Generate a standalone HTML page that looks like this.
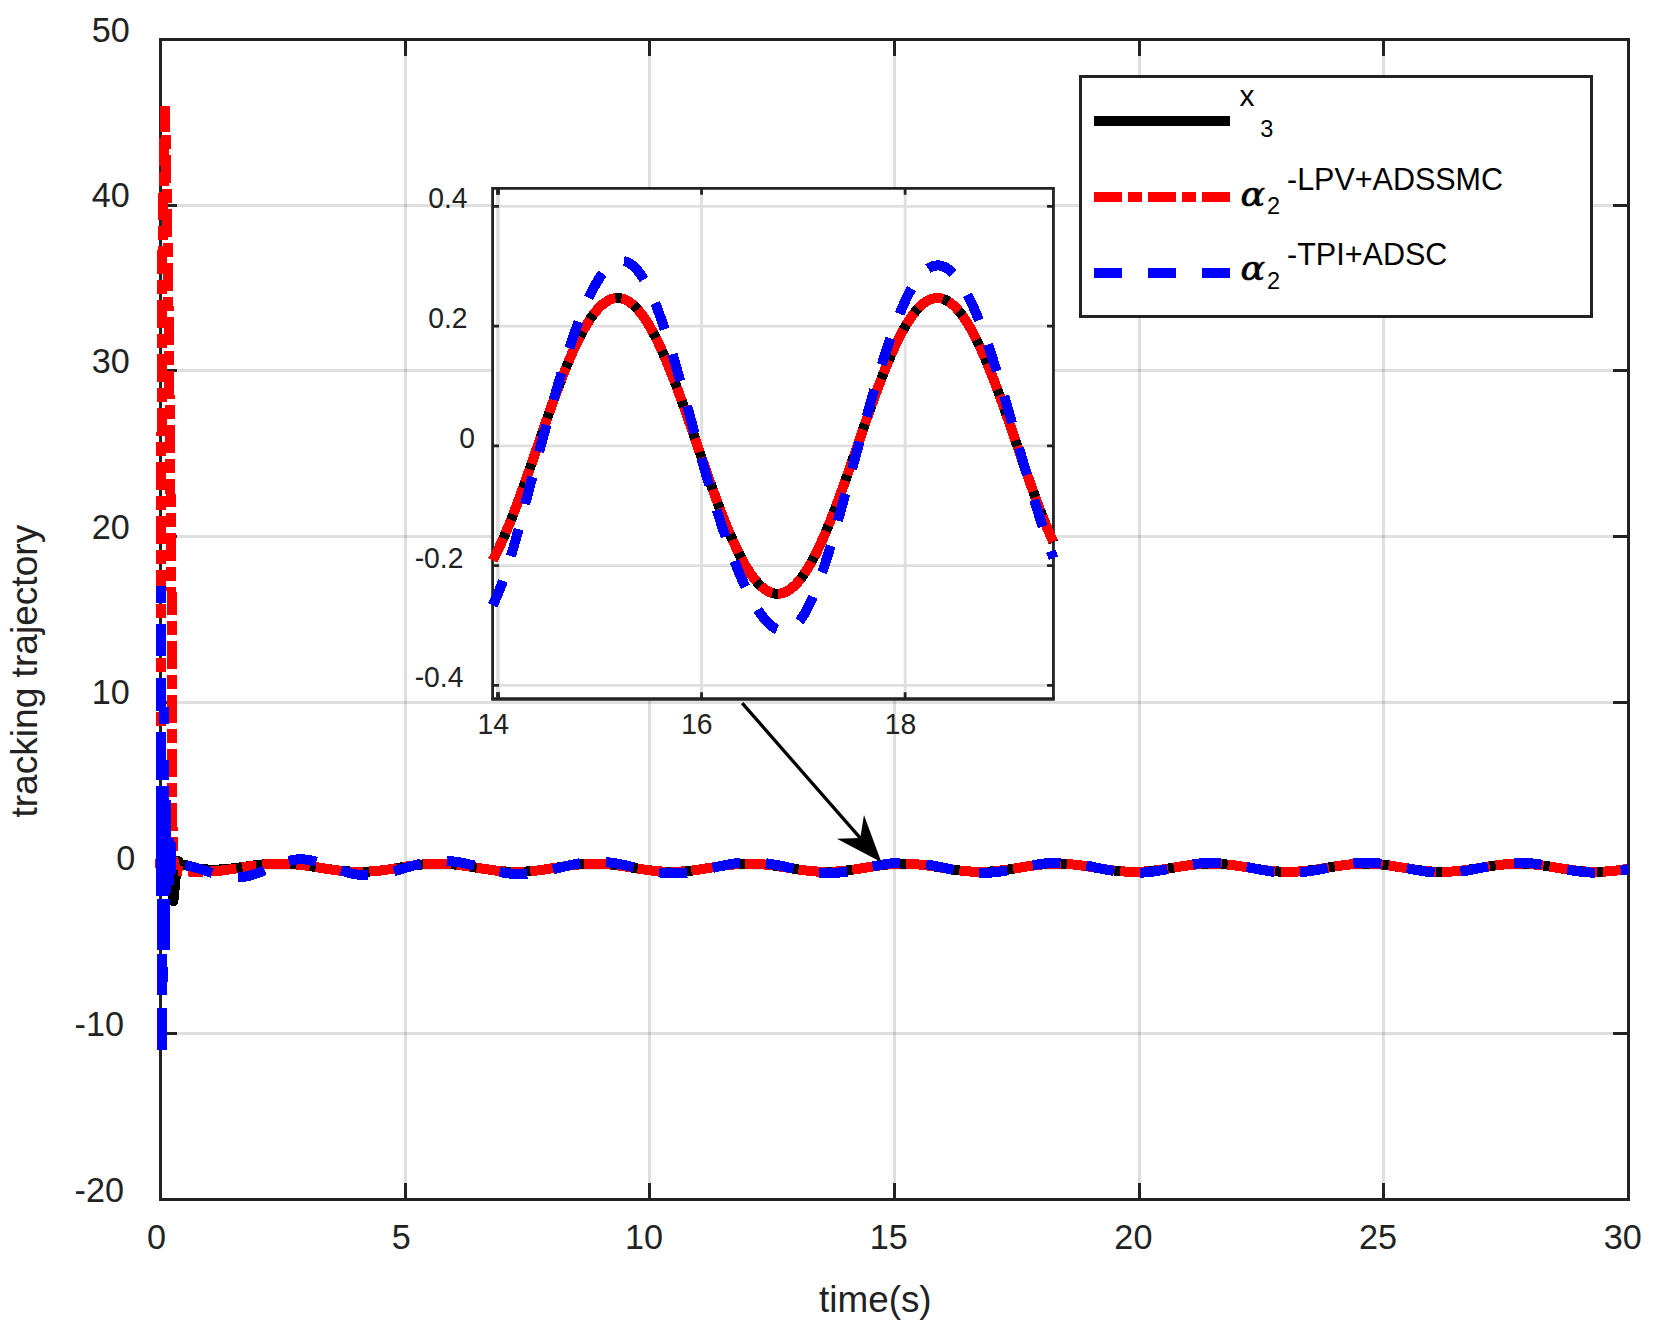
<!DOCTYPE html>
<html><head><meta charset="utf-8"><title>tracking trajectory</title>
<style>html,body{margin:0;padding:0;background:#fff}svg{display:block}</style></head>
<body>
<svg width="1656" height="1328" viewBox="0 0 1656 1328">
<rect width="1656" height="1328" fill="#fff"/>
<path d="M405.5,39.5 V1199.5 M649.5,39.5 V1199.5 M894.5,39.5 V1199.5 M1139.5,39.5 V1199.5 M1383.5,39.5 V1199.5" stroke="#262626" stroke-opacity="0.15" stroke-width="3" fill="none" shape-rendering="crispEdges"/>
<path d="M160.5,205.5 H1628.5 M160.5,370.5 H1628.5 M160.5,536.5 H1628.5 M160.5,702.5 H1628.5 M160.5,868.5 H1628.5 M160.5,1033.5 H1628.5" stroke="#262626" stroke-opacity="0.15" stroke-width="3" fill="none" shape-rendering="crispEdges"/>
<path d="M405.5,39.5 v16.5 M405.5,1199.5 v-16.5 M649.5,39.5 v16.5 M649.5,1199.5 v-16.5 M894.5,39.5 v16.5 M894.5,1199.5 v-16.5 M1139.5,39.5 v16.5 M1139.5,1199.5 v-16.5 M1383.5,39.5 v16.5 M1383.5,1199.5 v-16.5 M160.5,205.5 h16.5 M1628.5,205.5 h-15.5 M160.5,370.5 h16.5 M1628.5,370.5 h-15.5 M160.5,536.5 h16.5 M1628.5,536.5 h-15.5 M160.5,702.5 h16.5 M1628.5,702.5 h-15.5 M160.5,868.5 h16.5 M1628.5,868.5 h-15.5 M160.5,1033.5 h16.5 M1628.5,1033.5 h-15.5" stroke="#222222" stroke-width="3" fill="none" shape-rendering="crispEdges"/>
<rect x="160.5" y="39.5" width="1468" height="1160" stroke="#222222" stroke-width="3" fill="none" shape-rendering="crispEdges"/>
<g fill="none" stroke-width="10" stroke-linejoin="round" shape-rendering="crispEdges">
<path d="M160.5,867.77 L166,867.77 L170,876.06 L173.4,901 L176.3,871.09 L178.2,861.14 L181,864.46 L184.97,864.77 L186.17,865.23 L187.37,865.66 L188.58,866.07 L189.78,866.45 L190.98,866.81 L192.18,867.14 L193.39,867.45 L194.59,867.73 L195.79,868 L197,868.24 L198.2,868.46 L199.4,868.65 L200.6,868.83 L201.81,868.99 L203.01,869.14 L204.21,869.26 L205.42,869.37 L206.62,869.46 L207.82,869.53 L209.03,869.59 L210.23,869.63 L211.43,869.66 L212.63,869.67 L213.84,869.67 L215.04,869.66 L216.24,869.63 L217.45,869.6 L218.65,869.55 L219.85,869.49 L221.06,869.42 L222.26,869.34 L223.46,869.25 L224.66,869.15 L225.87,869.05 L227.07,868.93 L228.27,868.81 L229.48,868.68 L230.68,868.55 L231.88,868.41 L233.08,868.26 L234.29,868.11 L235.49,867.96 L236.69,867.8 L237.9,867.64 L239.1,867.48 L240.3,867.32 L241.51,867.15 L242.71,866.98 L243.91,866.81 L245.11,866.65 L246.32,866.48 L247.52,866.31 L248.72,866.15 L249.93,865.99 L251.13,865.83 L252.33,865.67 L253.53,865.51 L254.74,865.36 L255.94,865.22 L257.14,865.07 L258.35,864.94 L259.55,864.81 L260.75,864.68 L261.96,864.56 L263.16,864.45 L264.36,864.34 L265.56,864.24 L266.77,864.14 L267.97,864.06 L269.17,863.98 L270.38,863.91 L271.58,863.85 L272.78,863.79 L273.98,863.75 L275.19,863.71 L276.39,863.68 L277.59,863.66 L278.8,863.65 L280,863.65 L281.2,863.66 L282.41,863.67 L283.61,863.7 L284.81,863.73 L286.01,863.77 L287.22,863.82 L288.42,863.88 L289.62,863.95 L290.83,864.03 L292.03,864.11 L293.23,864.2 L294.43,864.3 L295.64,864.41 L296.84,864.53 L298.04,864.65 L299.25,864.78 L300.45,864.92 L301.65,865.06 L302.86,865.21 L304.06,865.36 L305.26,865.52 L306.46,865.69 L307.67,865.86 L308.87,866.03 L310.07,866.21 L311.28,866.39 L312.48,866.57 L313.68,866.76 L314.88,866.95 L316.09,867.14 L317.29,867.33 L318.49,867.52 L319.7,867.72 L320.9,867.91 L322.1,868.1 L323.31,868.3 L324.51,868.49 L325.71,868.68 L326.91,868.87 L328.12,869.05 L329.32,869.23 L330.52,869.41 L331.73,869.59 L332.93,869.76 L334.13,869.93 L335.33,870.09 L336.54,870.25 L337.74,870.4 L338.94,870.54 L340.15,870.68 L341.35,870.81 L342.55,870.94 L343.76,871.05 L344.96,871.16 L346.16,871.27 L347.36,871.36 L348.57,871.45 L349.77,871.53 L350.97,871.6 L352.18,871.66 L353.38,871.71 L354.58,871.75 L355.78,871.78 L356.99,871.81 L358.19,871.82 L359.39,871.83 L360.6,871.83 L361.8,871.81 L363,871.79 L364.21,871.76 L365.41,871.72 L366.61,871.67 L367.81,871.61 L369.02,871.55 L370.22,871.47 L371.42,871.39 L372.63,871.29 L373.83,871.19 L375.03,871.08 L376.23,870.97 L377.44,870.84 L378.64,870.71 L379.84,870.58 L381.05,870.43 L382.25,870.28 L383.45,870.13 L384.66,869.96 L385.86,869.8 L387.06,869.63 L388.26,869.45 L389.47,869.27 L390.67,869.09 L391.87,868.9 L393.08,868.72 L394.28,868.52 L395.48,868.33 L396.68,868.14 L397.89,867.94 L399.09,867.75 L400.29,867.55 L401.5,867.36 L402.7,867.17 L403.9,866.97 L405.11,866.78 L406.31,866.59 L407.51,866.41 L408.71,866.23 L409.92,866.05 L411.12,865.87 L412.32,865.7 L413.53,865.54 L414.73,865.38 L415.93,865.22 L417.13,865.07 L418.34,864.93 L419.54,864.79 L420.74,864.66 L421.95,864.54 L423.15,864.43 L424.35,864.32 L425.56,864.22 L426.76,864.13 L427.96,864.05 L429.16,863.97 L430.37,863.91 L431.57,863.85 L432.77,863.81 L433.98,863.77 L435.18,863.74 L436.38,863.72 L437.58,863.71 L438.79,863.71 L439.99,863.72 L441.19,863.74 L442.4,863.77 L443.6,863.81 L444.8,863.85 L446.01,863.91 L447.21,863.97 L448.41,864.05 L449.61,864.13 L450.82,864.22 L452.02,864.32 L453.22,864.43 L454.43,864.54 L455.63,864.66 L456.83,864.79 L458.04,864.93 L459.24,865.07 L460.44,865.22 L461.64,865.38 L462.85,865.54 L464.05,865.71 L465.25,865.88 L466.46,866.05 L467.66,866.23 L468.86,866.42 L470.06,866.6 L471.27,866.79 L472.47,866.98 L473.67,867.18 L474.88,867.37 L476.08,867.57 L477.28,867.76 L478.49,867.96 L479.69,868.16 L480.89,868.35 L482.09,868.54 L483.3,868.74 L484.5,868.93 L485.7,869.11 L486.91,869.3 L488.11,869.48 L489.31,869.65 L490.51,869.82 L491.72,869.99 L492.92,870.15 L494.12,870.31 L495.33,870.46 L496.53,870.6 L497.73,870.74 L498.94,870.87 L500.14,871 L501.34,871.11 L502.54,871.22 L503.75,871.32 L504.95,871.41 L506.15,871.49 L507.36,871.57 L508.56,871.63 L509.76,871.69 L510.96,871.74 L512.17,871.77 L513.37,871.8 L514.57,871.82 L515.78,871.83 L516.98,871.83 L518.18,871.82 L519.39,871.8 L520.59,871.77 L521.79,871.73 L522.99,871.69 L524.2,871.63 L525.4,871.56 L526.6,871.49 L527.81,871.41 L529.01,871.31 L530.21,871.21 L531.41,871.11 L532.62,870.99 L533.82,870.87 L535.02,870.74 L536.23,870.6 L537.43,870.45 L538.63,870.3 L539.84,870.14 L541.04,869.98 L542.24,869.81 L543.44,869.64 L544.65,869.46 L545.85,869.28 L547.05,869.1 L548.26,868.91 L549.46,868.72 L550.66,868.53 L551.86,868.33 L553.07,868.14 L554.27,867.94 L555.47,867.74 L556.68,867.55 L557.88,867.35 L559.08,867.15 L560.29,866.96 L561.49,866.77 L562.69,866.58 L563.89,866.39 L565.1,866.21 L566.3,866.03 L567.5,865.85 L568.71,865.68 L569.91,865.51 L571.11,865.35 L572.31,865.19 L573.52,865.05 L574.72,864.9 L575.92,864.77 L577.13,864.64 L578.33,864.52 L579.53,864.4 L580.74,864.3 L581.94,864.2 L583.14,864.11 L584.34,864.03 L585.55,863.96 L586.75,863.89 L587.95,863.84 L589.16,863.79 L590.36,863.76 L591.56,863.73 L592.76,863.72 L593.97,863.71 L595.17,863.71 L596.37,863.73 L597.58,863.75 L598.78,863.78 L599.98,863.82 L601.19,863.87 L602.39,863.93 L603.59,864 L604.79,864.08 L606,864.17 L607.2,864.26 L608.4,864.37 L609.61,864.48 L610.81,864.6 L612.01,864.73 L613.21,864.86 L614.42,865 L615.62,865.15 L616.82,865.3 L618.03,865.46 L619.23,865.63 L620.43,865.8 L621.64,865.97 L622.84,866.15 L624.04,866.34 L625.24,866.52 L626.45,866.71 L627.65,866.91 L628.85,867.1 L630.06,867.3 L631.26,867.49 L632.46,867.69 L633.66,867.89 L634.87,868.09 L636.07,868.28 L637.27,868.48 L638.48,868.67 L639.68,868.86 L640.88,869.05 L642.09,869.24 L643.29,869.42 L644.49,869.6 L645.69,869.78 L646.9,869.95 L648.1,870.11 L649.3,870.27 L650.51,870.42 L651.71,870.57 L652.91,870.71 L654.12,870.84 L655.32,870.97 L656.52,871.09 L657.72,871.2 L658.93,871.3 L660.13,871.39 L661.33,871.48 L662.54,871.55 L663.74,871.62 L664.94,871.68 L666.14,871.73 L667.35,871.77 L668.55,871.8 L669.75,871.82 L670.96,871.83 L672.16,871.83 L673.36,871.82 L674.57,871.8 L675.77,871.78 L676.97,871.74 L678.17,871.69 L679.38,871.64 L680.58,871.57 L681.78,871.5 L682.99,871.41 L684.19,871.32 L685.39,871.22 L686.59,871.11 L687.8,871 L689,870.87 L690.2,870.74 L691.41,870.6 L692.61,870.46 L693.81,870.3 L695.02,870.15 L696.22,869.98 L697.42,869.81 L698.62,869.64 L699.83,869.46 L701.03,869.28 L702.23,869.09 L703.44,868.9 L704.64,868.71 L705.84,868.52 L707.04,868.32 L708.25,868.13 L709.45,867.93 L710.65,867.73 L711.86,867.53 L713.06,867.33 L714.26,867.14 L715.47,866.94 L716.67,866.75 L717.87,866.56 L719.07,866.37 L720.28,866.19 L721.48,866 L722.68,865.83 L723.89,865.66 L725.09,865.49 L726.29,865.33 L727.49,865.17 L728.7,865.02 L729.9,864.88 L731.1,864.75 L732.31,864.62 L733.51,864.5 L734.71,864.38 L735.92,864.28 L737.12,864.18 L738.32,864.09 L739.52,864.01 L740.73,863.94 L741.93,863.88 L743.13,863.83 L744.34,863.79 L745.54,863.75 L746.74,863.73 L747.94,863.72 L749.15,863.71 L750.35,863.72 L751.55,863.73 L752.76,863.76 L753.96,863.79 L755.16,863.84 L756.37,863.89 L757.57,863.95 L758.77,864.02 L759.97,864.1 L761.18,864.19 L762.38,864.29 L763.58,864.4 L764.79,864.51 L765.99,864.64 L767.19,864.77 L768.39,864.9 L769.6,865.05 L770.8,865.2 L772,865.35 L773.21,865.52 L774.41,865.68 L775.61,865.86 L776.82,866.03 L778.02,866.22 L779.22,866.4 L780.42,866.59 L781.63,866.78 L782.83,866.98 L784.03,867.17 L785.24,867.37 L786.44,867.57 L787.64,867.76 L788.84,867.96 L790.05,868.16 L791.25,868.36 L792.45,868.55 L793.66,868.75 L794.86,868.94 L796.06,869.13 L797.27,869.31 L798.47,869.5 L799.67,869.67 L800.87,869.85 L802.08,870.02 L803.28,870.18 L804.48,870.34 L805.69,870.49 L806.89,870.63 L808.09,870.77 L809.29,870.9 L810.5,871.02 L811.7,871.14 L812.9,871.24 L814.11,871.34 L815.31,871.43 L816.51,871.51 L817.72,871.59 L818.92,871.65 L820.12,871.7 L821.32,871.75 L822.53,871.78 L823.73,871.81 L824.93,871.83 L826.14,871.83 L827.34,871.83 L828.54,871.81 L829.74,871.79 L830.95,871.76 L832.15,871.72 L833.35,871.66 L834.56,871.6 L835.76,871.53 L836.96,871.45 L838.17,871.37 L839.37,871.27 L840.57,871.16 L841.77,871.05 L842.98,870.93 L844.18,870.8 L845.38,870.66 L846.59,870.52 L847.79,870.37 L848.99,870.22 L850.19,870.05 L851.4,869.89 L852.6,869.71 L853.8,869.54 L855.01,869.36 L856.21,869.17 L857.41,868.98 L858.62,868.79 L859.82,868.6 L861.02,868.4 L862.22,868.21 L863.43,868.01 L864.63,867.81 L865.83,867.61 L867.04,867.41 L868.24,867.21 L869.44,867.02 L870.64,866.82 L871.85,866.63 L873.05,866.44 L874.25,866.25 L875.46,866.07 L876.66,865.89 L877.86,865.72 L879.07,865.55 L880.27,865.39 L881.47,865.23 L882.67,865.08 L883.88,864.93 L885.08,864.79 L886.28,864.66 L887.49,864.54 L888.69,864.42 L889.89,864.31 L891.1,864.21 L892.3,864.12 L893.5,864.04 L894.7,863.96 L895.91,863.9 L897.11,863.84 L898.31,863.8 L899.52,863.76 L900.72,863.74 L901.92,863.72 L903.12,863.71 L904.33,863.71 L905.53,863.73 L906.73,863.75 L907.94,863.78 L909.14,863.82 L910.34,863.87 L911.55,863.93 L912.75,864 L913.95,864.08 L915.15,864.17 L916.36,864.26 L917.56,864.37 L918.76,864.48 L919.97,864.6 L921.17,864.73 L922.37,864.87 L923.57,865.01 L924.78,865.16 L925.98,865.31 L927.18,865.47 L928.39,865.64 L929.59,865.81 L930.79,865.99 L932,866.17 L933.2,866.36 L934.4,866.54 L935.6,866.73 L936.81,866.93 L938.01,867.12 L939.21,867.32 L940.42,867.52 L941.62,867.72 L942.82,867.92 L944.02,868.12 L945.23,868.31 L946.43,868.51 L947.63,868.71 L948.84,868.9 L950.04,869.09 L951.24,869.27 L952.45,869.46 L953.65,869.64 L954.85,869.81 L956.05,869.98 L957.26,870.15 L958.46,870.3 L959.66,870.46 L960.87,870.6 L962.07,870.74 L963.27,870.87 L964.47,871 L965.68,871.12 L966.88,871.22 L968.08,871.33 L969.29,871.42 L970.49,871.5 L971.69,871.57 L972.9,871.64 L974.1,871.7 L975.3,871.74 L976.5,871.78 L977.71,871.81 L978.91,871.82 L980.11,871.83 L981.32,871.83 L982.52,871.82 L983.72,871.8 L984.92,871.76 L986.13,871.72 L987.33,871.67 L988.53,871.61 L989.74,871.54 L990.94,871.47 L992.14,871.38 L993.35,871.28 L994.55,871.18 L995.75,871.07 L996.95,870.95 L998.16,870.82 L999.36,870.68 L1000.56,870.54 L1001.77,870.39 L1002.97,870.24 L1004.17,870.08 L1005.37,869.91 L1006.58,869.74 L1007.78,869.56 L1008.98,869.38 L1010.19,869.19 L1011.39,869.01 L1012.59,868.82 L1013.8,868.62 L1015,868.43 L1016.2,868.23 L1017.4,868.03 L1018.61,867.83 L1019.81,867.63 L1021.01,867.43 L1022.22,867.23 L1023.42,867.04 L1024.62,866.84 L1025.82,866.65 L1027.03,866.46 L1028.23,866.27 L1029.43,866.09 L1030.64,865.91 L1031.84,865.74 L1033.04,865.57 L1034.25,865.4 L1035.45,865.24 L1036.65,865.09 L1037.85,864.94 L1039.06,864.8 L1040.26,864.67 L1041.46,864.55 L1042.67,864.43 L1043.87,864.32 L1045.07,864.22 L1046.27,864.13 L1047.48,864.04 L1048.68,863.97 L1049.88,863.9 L1051.09,863.85 L1052.29,863.8 L1053.49,863.76 L1054.7,863.74 L1055.9,863.72 L1057.1,863.71 L1058.3,863.71 L1059.51,863.73 L1060.71,863.75 L1061.91,863.78 L1063.12,863.82 L1064.32,863.87 L1065.52,863.93 L1066.72,864 L1067.93,864.08 L1069.13,864.16 L1070.33,864.26 L1071.54,864.36 L1072.74,864.48 L1073.94,864.6 L1075.15,864.72 L1076.35,864.86 L1077.55,865 L1078.75,865.15 L1079.96,865.31 L1081.16,865.47 L1082.36,865.63 L1083.57,865.81 L1084.77,865.98 L1085.97,866.16 L1087.17,866.35 L1088.38,866.54 L1089.58,866.73 L1090.78,866.92 L1091.99,867.12 L1093.19,867.32 L1094.39,867.51 L1095.6,867.71 L1096.8,867.91 L1098,868.11 L1099.2,868.31 L1100.41,868.51 L1101.61,868.7 L1102.81,868.89 L1104.02,869.08 L1105.22,869.27 L1106.42,869.45 L1107.63,869.63 L1108.83,869.81 L1110.03,869.98 L1111.23,870.14 L1112.44,870.3 L1113.64,870.46 L1114.84,870.6 L1116.05,870.74 L1117.25,870.87 L1118.45,871 L1119.65,871.12 L1120.86,871.22 L1122.06,871.32 L1123.26,871.42 L1124.47,871.5 L1125.67,871.57 L1126.87,871.64 L1128.08,871.7 L1129.28,871.74 L1130.48,871.78 L1131.68,871.81 L1132.89,871.82 L1134.09,871.83 L1135.29,871.83 L1136.5,871.82 L1137.7,871.8 L1138.9,871.76 L1140.1,871.72 L1141.31,871.67 L1142.51,871.61 L1143.71,871.54 L1144.92,871.46 L1146.12,871.38 L1147.32,871.28 L1148.53,871.18 L1149.73,871.06 L1150.93,870.94 L1152.13,870.82 L1153.34,870.68 L1154.54,870.54 L1155.74,870.39 L1156.95,870.23 L1158.15,870.07 L1159.35,869.9 L1160.55,869.73 L1161.76,869.56 L1162.96,869.37 L1164.16,869.19 L1165.37,869 L1166.57,868.81 L1167.77,868.62 L1168.98,868.42 L1170.18,868.22 L1171.38,868.02 L1172.58,867.82 L1173.79,867.62 L1174.99,867.43 L1176.19,867.23 L1177.4,867.03 L1178.6,866.84 L1179.8,866.64 L1181,866.45 L1182.21,866.27 L1183.41,866.08 L1184.61,865.9 L1185.82,865.73 L1187.02,865.56 L1188.22,865.39 L1189.43,865.23 L1190.63,865.08 L1191.83,864.94 L1193.03,864.8 L1194.24,864.66 L1195.44,864.54 L1196.64,864.42 L1197.85,864.31 L1199.05,864.21 L1200.25,864.12 L1201.45,864.04 L1202.66,863.97 L1203.86,863.9 L1205.06,863.85 L1206.27,863.8 L1207.47,863.76 L1208.67,863.74 L1209.88,863.72 L1211.08,863.71 L1212.28,863.71 L1213.48,863.73 L1214.69,863.75 L1215.89,863.78 L1217.09,863.82 L1218.3,863.87 L1219.5,863.93 L1220.7,864 L1221.9,864.08 L1223.11,864.17 L1224.31,864.27 L1225.51,864.37 L1226.72,864.48 L1227.92,864.6 L1229.12,864.73 L1230.33,864.87 L1231.53,865.01 L1232.73,865.16 L1233.93,865.32 L1235.14,865.48 L1236.34,865.65 L1237.54,865.82 L1238.75,866 L1239.95,866.18 L1241.15,866.36 L1242.35,866.55 L1243.56,866.74 L1244.76,866.94 L1245.96,867.13 L1247.17,867.33 L1248.37,867.53 L1249.57,867.73 L1250.78,867.93 L1251.98,868.13 L1253.18,868.33 L1254.38,868.52 L1255.59,868.72 L1256.79,868.91 L1257.99,869.1 L1259.2,869.29 L1260.4,869.47 L1261.6,869.65 L1262.8,869.82 L1264.01,869.99 L1265.21,870.16 L1266.41,870.32 L1267.62,870.47 L1268.82,870.61 L1270.02,870.75 L1271.23,870.89 L1272.43,871.01 L1273.63,871.13 L1274.83,871.23 L1276.04,871.33 L1277.24,871.43 L1278.44,871.51 L1279.65,871.58 L1280.85,871.65 L1282.05,871.7 L1283.25,871.75 L1284.46,871.78 L1285.66,871.81 L1286.86,871.82 L1288.07,871.83 L1289.27,871.83 L1290.47,871.82 L1291.68,871.79 L1292.88,871.76 L1294.08,871.72 L1295.28,871.67 L1296.49,871.61 L1297.69,871.54 L1298.89,871.46 L1300.1,871.37 L1301.3,871.27 L1302.5,871.17 L1303.7,871.05 L1304.91,870.93 L1306.11,870.8 L1307.31,870.67 L1308.52,870.52 L1309.72,870.37 L1310.92,870.22 L1312.13,870.05 L1313.33,869.89 L1314.53,869.71 L1315.73,869.54 L1316.94,869.35 L1318.14,869.17 L1319.34,868.98 L1320.55,868.79 L1321.75,868.59 L1322.95,868.4 L1324.16,868.2 L1325.36,868 L1326.56,867.8 L1327.76,867.6 L1328.97,867.4 L1330.17,867.2 L1331.37,867.01 L1332.58,866.81 L1333.78,866.62 L1334.98,866.43 L1336.18,866.24 L1337.39,866.06 L1338.59,865.88 L1339.79,865.71 L1341,865.54 L1342.2,865.37 L1343.4,865.22 L1344.61,865.06 L1345.81,864.92 L1347.01,864.78 L1348.21,864.65 L1349.42,864.53 L1350.62,864.41 L1351.82,864.3 L1353.03,864.2 L1354.23,864.11 L1355.43,864.03 L1356.63,863.96 L1357.84,863.89 L1359.04,863.84 L1360.24,863.79 L1361.45,863.76 L1362.65,863.73 L1363.85,863.72 L1365.06,863.71 L1366.26,863.72 L1367.46,863.73 L1368.66,863.75 L1369.87,863.79 L1371.07,863.83 L1372.27,863.88 L1373.48,863.94 L1374.68,864.01 L1375.88,864.09 L1377.08,864.18 L1378.29,864.28 L1379.49,864.39 L1380.69,864.5 L1381.9,864.62 L1383.1,864.75 L1384.3,864.89 L1385.51,865.03 L1386.71,865.18 L1387.91,865.34 L1389.11,865.5 L1390.32,865.67 L1391.52,865.84 L1392.72,866.02 L1393.93,866.2 L1395.13,866.39 L1396.33,866.58 L1397.53,866.77 L1398.74,866.96 L1399.94,867.16 L1401.14,867.36 L1402.35,867.56 L1403.55,867.76 L1404.75,867.96 L1405.96,868.16 L1407.16,868.35 L1408.36,868.55 L1409.56,868.75 L1410.77,868.94 L1411.97,869.13 L1413.17,869.31 L1414.38,869.5 L1415.58,869.67 L1416.78,869.85 L1417.98,870.02 L1419.19,870.18 L1420.39,870.34 L1421.59,870.49 L1422.8,870.63 L1424,870.77 L1425.2,870.9 L1426.41,871.03 L1427.61,871.14 L1428.81,871.25 L1430.01,871.35 L1431.22,871.44 L1432.42,871.52 L1433.62,871.59 L1434.83,871.65 L1436.03,871.71 L1437.23,871.75 L1438.43,871.79 L1439.64,871.81 L1440.84,871.83 L1442.04,871.83 L1443.25,871.83 L1444.45,871.81 L1445.65,871.79 L1446.86,871.75 L1448.06,871.71 L1449.26,871.66 L1450.46,871.6 L1451.67,871.52 L1452.87,871.44 L1454.07,871.35 L1455.28,871.26 L1456.48,871.15 L1457.68,871.03 L1458.88,870.91 L1460.09,870.78 L1461.29,870.64 L1462.49,870.5 L1463.7,870.35 L1464.9,870.19 L1466.1,870.03 L1467.31,869.86 L1468.51,869.69 L1469.71,869.51 L1470.91,869.33 L1472.12,869.14 L1473.32,868.95 L1474.52,868.76 L1475.73,868.56 L1476.93,868.37 L1478.13,868.17 L1479.33,867.97 L1480.54,867.77 L1481.74,867.57 L1482.94,867.37 L1484.15,867.17 L1485.35,866.98 L1486.55,866.78 L1487.76,866.59 L1488.96,866.4 L1490.16,866.21 L1491.36,866.03 L1492.57,865.85 L1493.77,865.68 L1494.97,865.51 L1496.18,865.35 L1497.38,865.19 L1498.58,865.04 L1499.78,864.9 L1500.99,864.76 L1502.19,864.63 L1503.39,864.51 L1504.6,864.39 L1505.8,864.29 L1507,864.19 L1508.21,864.1 L1509.41,864.02 L1510.61,863.95 L1511.81,863.88 L1513.02,863.83 L1514.22,863.79 L1515.42,863.75 L1516.63,863.73 L1517.83,863.72 L1519.03,863.71 L1520.23,863.72 L1521.44,863.73 L1522.64,863.76 L1523.84,863.79 L1525.05,863.84 L1526.25,863.89 L1527.45,863.95 L1528.66,864.03 L1529.86,864.11 L1531.06,864.2 L1532.26,864.3 L1533.47,864.4 L1534.67,864.52 L1535.87,864.64 L1537.08,864.77 L1538.28,864.91 L1539.48,865.06 L1540.69,865.21 L1541.89,865.37 L1543.09,865.53 L1544.29,865.7 L1545.5,865.87 L1546.7,866.05 L1547.9,866.23 L1549.11,866.42 L1550.31,866.61 L1551.51,866.8 L1552.71,867 L1553.92,867.19 L1555.12,867.39 L1556.32,867.59 L1557.53,867.79 L1558.73,867.99 L1559.93,868.19 L1561.14,868.39 L1562.34,868.58 L1563.54,868.78 L1564.74,868.97 L1565.95,869.16 L1567.15,869.35 L1568.35,869.53 L1569.56,869.71 L1570.76,869.88 L1571.96,870.05 L1573.16,870.21 L1574.37,870.37 L1575.57,870.52 L1576.77,870.66 L1577.98,870.8 L1579.18,870.93 L1580.38,871.05 L1581.59,871.16 L1582.79,871.27 L1583.99,871.36 L1585.19,871.45 L1586.4,871.53 L1587.6,871.6 L1588.8,871.66 L1590.01,871.72 L1591.21,871.76 L1592.41,871.79 L1593.61,871.81 L1594.82,871.83 L1596.02,871.83 L1597.22,871.82 L1598.43,871.81 L1599.63,871.78 L1600.83,871.75 L1602.04,871.7 L1603.24,871.65 L1604.44,871.58 L1605.64,871.51 L1606.85,871.43 L1608.05,871.34 L1609.25,871.24 L1610.46,871.13 L1611.66,871.01 L1612.86,870.89 L1614.06,870.76 L1615.27,870.62 L1616.47,870.47 L1617.67,870.32 L1618.88,870.16 L1620.08,870 L1621.28,869.83 L1622.49,869.65 L1623.69,869.48 L1624.89,869.29 L1626.09,869.11 L1627.3,868.92 L1628.5,868.72" stroke="#000"/>
<path d="M160.5,867.77 L161,600 L162,280 L165,106.5 L168.2,280 L169.2,365 L171.6,600 L172.6,850 L174,864 L176.5,870.31" stroke="#ff0000" stroke-dasharray="28 6 14 6" stroke-linejoin="bevel"/>
<path d="M178.12,870.48 L179.32,870.62 L180.53,870.75 L181.74,870.88 L182.95,871 L184.16,871.11 L185.37,871.21 L186.58,871.31 L187.79,871.4 L188.99,871.48 L190.2,871.55 L191.41,871.62 L192.62,871.67 L193.83,871.72 L195.04,871.76 L196.25,871.79 L197.45,871.81 L198.66,871.83 L199.87,871.83 L201.08,871.83 L202.29,871.81 L203.5,871.79 L204.71,871.76 L205.92,871.72 L207.12,871.67 L208.33,871.61 L209.54,871.55 L210.75,871.47 L211.96,871.39 L213.17,871.3 L214.38,871.2 L215.58,871.09 L216.79,870.98 L218,870.86 L219.21,870.73 L220.42,870.6 L221.63,870.46 L222.84,870.31 L224.04,870.16 L225.25,870 L226.46,869.84 L227.67,869.67 L228.88,869.5 L230.09,869.33 L231.3,869.15 L232.51,868.97 L233.71,868.78 L234.92,868.6 L236.13,868.41 L237.34,868.22 L238.55,868.03 L239.76,867.84 L240.97,867.64 L242.17,867.45 L243.38,867.26 L244.59,867.07 L245.8,866.88 L247.01,866.7 L248.22,866.51 L249.43,866.33 L250.64,866.15 L251.84,865.98 L253.05,865.81 L254.26,865.64 L255.47,865.48 L256.68,865.32 L257.89,865.17 L259.1,865.03 L260.3,864.89 L261.51,864.76 L262.72,864.63 L263.93,864.51 L265.14,864.4 L266.35,864.3 L267.56,864.2 L268.76,864.11 L269.97,864.04 L271.18,863.96 L272.39,863.9 L273.6,863.85 L274.81,863.8 L276.02,863.77 L277.23,863.74 L278.43,863.72 L279.64,863.71 L280.85,863.71 L282.06,863.72 L283.27,863.74 L284.48,863.77 L285.69,863.81 L286.89,863.85 L288.1,863.91 L289.31,863.97 L290.52,864.04 L291.73,864.12 L292.94,864.21 L294.15,864.31 L295.36,864.41 L296.56,864.53 L297.77,864.65 L298.98,864.78 L300.19,864.91 L301.4,865.05 L302.61,865.2 L303.82,865.35 L305.02,865.51 L306.23,865.67 L307.44,865.84 L308.65,866.01 L309.86,866.19 L311.07,866.37 L312.28,866.55 L313.49,866.74 L314.69,866.93 L315.9,867.12 L317.11,867.31 L318.32,867.51 L319.53,867.7 L320.74,867.89 L321.95,868.09 L323.15,868.28 L324.36,868.47 L325.57,868.66 L326.78,868.85 L327.99,869.04 L329.2,869.22 L330.41,869.4 L331.61,869.58 L332.82,869.75 L334.03,869.92 L335.24,870.08 L336.45,870.24 L337.66,870.39 L338.87,870.54 L340.08,870.67 L341.28,870.81 L342.49,870.93 L343.7,871.05 L344.91,871.16 L346.12,871.27 L347.33,871.36 L348.54,871.45 L349.74,871.53 L350.95,871.6 L352.16,871.66 L353.37,871.71 L354.58,871.75 L355.79,871.79 L357,871.81 L358.21,871.83 L359.41,871.83 L360.62,871.83 L361.83,871.81 L363.04,871.79 L364.25,871.76 L365.46,871.72 L366.67,871.67 L367.87,871.61 L369.08,871.54 L370.29,871.47 L371.5,871.38 L372.71,871.29 L373.92,871.19 L375.13,871.08 L376.34,870.96 L377.54,870.83 L378.75,870.7 L379.96,870.56 L381.17,870.42 L382.38,870.27 L383.59,870.11 L384.8,869.95 L386,869.78 L387.21,869.61 L388.42,869.43 L389.63,869.25 L390.84,869.06 L392.05,868.88 L393.26,868.69 L394.46,868.5 L395.67,868.3 L396.88,868.11 L398.09,867.91 L399.3,867.72 L400.51,867.52 L401.72,867.32 L402.93,867.13 L404.13,866.94 L405.34,866.75 L406.55,866.56 L407.76,866.37 L408.97,866.19 L410.18,866.01 L411.39,865.84 L412.59,865.67 L413.8,865.5 L415.01,865.34 L416.22,865.19 L417.43,865.04 L418.64,864.9 L419.85,864.76 L421.06,864.63 L422.26,864.51 L423.47,864.4 L424.68,864.29 L425.89,864.2 L427.1,864.11 L428.31,864.03 L429.52,863.96 L430.72,863.89 L431.93,863.84 L433.14,863.79 L434.35,863.76 L435.56,863.73 L436.77,863.72 L437.98,863.71 L439.19,863.71 L440.39,863.73 L441.6,863.75 L442.81,863.78 L444.02,863.82 L445.23,863.87 L446.44,863.93 L447.65,864 L448.85,864.08 L450.06,864.16 L451.27,864.26 L452.48,864.36 L453.69,864.47 L454.9,864.59 L456.11,864.71 L457.31,864.85 L458.52,864.99 L459.73,865.13 L460.94,865.29 L462.15,865.45 L463.36,865.61 L464.57,865.78 L465.78,865.95 L466.98,866.13 L468.19,866.31 L469.4,866.5 L470.61,866.69 L471.82,866.88 L473.03,867.07 L474.24,867.27 L475.44,867.46 L476.65,867.66 L477.86,867.86 L479.07,868.05 L480.28,868.25 L481.49,868.45 L482.7,868.64 L483.91,868.83 L485.11,869.02 L486.32,869.21 L487.53,869.39 L488.74,869.57 L489.95,869.74 L491.16,869.91 L492.37,870.08 L493.57,870.24 L494.78,870.39 L495.99,870.54 L497.2,870.68 L498.41,870.82 L499.62,870.94 L500.83,871.06 L502.04,871.17 L503.24,871.28 L504.45,871.37 L505.66,871.46 L506.87,871.54 L508.08,871.61 L509.29,871.67 L510.5,871.72 L511.7,871.76 L512.91,871.79 L514.12,871.81 L515.33,871.83 L516.54,871.83 L517.75,871.83 L518.96,871.81 L520.16,871.78 L521.37,871.75 L522.58,871.7 L523.79,871.65 L525,871.59 L526.21,871.52 L527.42,871.43 L528.63,871.35 L529.83,871.25 L531.04,871.14 L532.25,871.03 L533.46,870.9 L534.67,870.77 L535.88,870.64 L537.09,870.49 L538.29,870.34 L539.5,870.19 L540.71,870.03 L541.92,869.86 L543.13,869.69 L544.34,869.51 L545.55,869.33 L546.76,869.14 L547.96,868.96 L549.17,868.77 L550.38,868.57 L551.59,868.38 L552.8,868.18 L554.01,867.98 L555.22,867.78 L556.42,867.59 L557.63,867.39 L558.84,867.19 L560.05,867 L561.26,866.8 L562.47,866.61 L563.68,866.42 L564.89,866.24 L566.09,866.06 L567.3,865.88 L568.51,865.71 L569.72,865.54 L570.93,865.37 L572.14,865.22 L573.35,865.07 L574.55,864.92 L575.76,864.78 L576.97,864.65 L578.18,864.53 L579.39,864.41 L580.6,864.31 L581.81,864.21 L583.01,864.12 L584.22,864.03 L585.43,863.96 L586.64,863.9 L587.85,863.84 L589.06,863.8 L590.27,863.76 L591.48,863.74 L592.68,863.72 L593.89,863.71 L595.1,863.71 L596.31,863.73 L597.52,863.75 L598.73,863.78 L599.94,863.82 L601.14,863.87 L602.35,863.93 L603.56,864 L604.77,864.08 L605.98,864.17 L607.19,864.26 L608.4,864.37 L609.61,864.48 L610.81,864.6 L612.02,864.73 L613.23,864.86 L614.44,865 L615.65,865.15 L616.86,865.31 L618.07,865.47 L619.27,865.63 L620.48,865.81 L621.69,865.98 L622.9,866.16 L624.11,866.35 L625.32,866.54 L626.53,866.73 L627.74,866.92 L628.94,867.11 L630.15,867.31 L631.36,867.51 L632.57,867.71 L633.78,867.91 L634.99,868.11 L636.2,868.3 L637.4,868.5 L638.61,868.69 L639.82,868.89 L641.03,869.08 L642.24,869.26 L643.45,869.45 L644.66,869.63 L645.86,869.8 L647.07,869.97 L648.28,870.13 L649.49,870.29 L650.7,870.45 L651.91,870.59 L653.12,870.73 L654.33,870.86 L655.53,870.99 L656.74,871.11 L657.95,871.22 L659.16,871.32 L660.37,871.41 L661.58,871.49 L662.79,871.57 L663.99,871.63 L665.2,871.69 L666.41,871.74 L667.62,871.78 L668.83,871.8 L670.04,871.82 L671.25,871.83 L672.46,871.83 L673.66,871.82 L674.87,871.8 L676.08,871.77 L677.29,871.73 L678.5,871.68 L679.71,871.62 L680.92,871.55 L682.12,871.47 L683.33,871.39 L684.54,871.29 L685.75,871.19 L686.96,871.08 L688.17,870.96 L689.38,870.83 L690.59,870.7 L691.79,870.55 L693,870.41 L694.21,870.25 L695.42,870.09 L696.63,869.92 L697.84,869.75 L699.05,869.58 L700.25,869.4 L701.46,869.21 L702.67,869.02 L703.88,868.83 L705.09,868.64 L706.3,868.44 L707.51,868.25 L708.71,868.05 L709.92,867.85 L711.13,867.65 L712.34,867.45 L713.55,867.25 L714.76,867.06 L715.97,866.86 L717.18,866.67 L718.38,866.48 L719.59,866.29 L720.8,866.11 L722.01,865.93 L723.22,865.75 L724.43,865.58 L725.64,865.42 L726.84,865.26 L728.05,865.1 L729.26,864.96 L730.47,864.82 L731.68,864.68 L732.89,864.56 L734.1,864.44 L735.31,864.33 L736.51,864.23 L737.72,864.13 L738.93,864.05 L740.14,863.98 L741.35,863.91 L742.56,863.85 L743.77,863.8 L744.97,863.77 L746.18,863.74 L747.39,863.72 L748.6,863.71 L749.81,863.71 L751.02,863.72 L752.23,863.75 L753.43,863.78 L754.64,863.82 L755.85,863.87 L757.06,863.92 L758.27,863.99 L759.48,864.07 L760.69,864.16 L761.9,864.25 L763.1,864.36 L764.31,864.47 L765.52,864.59 L766.73,864.72 L767.94,864.85 L769.15,864.99 L770.36,865.14 L771.56,865.3 L772.77,865.46 L773.98,865.62 L775.19,865.8 L776.4,865.97 L777.61,866.15 L778.82,866.34 L780.03,866.53 L781.23,866.72 L782.44,866.91 L783.65,867.11 L784.86,867.31 L786.07,867.51 L787.28,867.7 L788.49,867.9 L789.69,868.1 L790.9,868.3 L792.11,868.5 L793.32,868.69 L794.53,868.89 L795.74,869.08 L796.95,869.27 L798.16,869.45 L799.36,869.63 L800.57,869.8 L801.78,869.97 L802.99,870.14 L804.2,870.3 L805.41,870.45 L806.62,870.6 L807.82,870.74 L809.03,870.87 L810.24,871 L811.45,871.11 L812.66,871.22 L813.87,871.32 L815.08,871.42 L816.28,871.5 L817.49,871.57 L818.7,871.64 L819.91,871.7 L821.12,871.74 L822.33,871.78 L823.54,871.81 L824.75,871.82 L825.95,871.83 L827.16,871.83 L828.37,871.82 L829.58,871.79 L830.79,871.76 L832,871.72 L833.21,871.67 L834.41,871.61 L835.62,871.54 L836.83,871.46 L838.04,871.37 L839.25,871.28 L840.46,871.17 L841.67,871.06 L842.88,870.94 L844.08,870.81 L845.29,870.67 L846.5,870.53 L847.71,870.38 L848.92,870.23 L850.13,870.06 L851.34,869.9 L852.54,869.72 L853.75,869.54 L854.96,869.36 L856.17,869.18 L857.38,868.99 L858.59,868.8 L859.8,868.6 L861.01,868.4 L862.21,868.21 L863.42,868.01 L864.63,867.81 L865.84,867.61 L867.05,867.41 L868.26,867.21 L869.47,867.01 L870.67,866.82 L871.88,866.62 L873.09,866.43 L874.3,866.25 L875.51,866.06 L876.72,865.88 L877.93,865.71 L879.13,865.54 L880.34,865.38 L881.55,865.22 L882.76,865.07 L883.97,864.92 L885.18,864.78 L886.39,864.65 L887.6,864.53 L888.8,864.41 L890.01,864.3 L891.22,864.2 L892.43,864.11 L893.64,864.03 L894.85,863.96 L896.06,863.89 L897.26,863.84 L898.47,863.79 L899.68,863.76 L900.89,863.73 L902.1,863.72 L903.31,863.71 L904.52,863.72 L905.73,863.73 L906.93,863.75 L908.14,863.79 L909.35,863.83 L910.56,863.88 L911.77,863.95 L912.98,864.02 L914.19,864.1 L915.39,864.19 L916.6,864.28 L917.81,864.39 L919.02,864.51 L920.23,864.63 L921.44,864.76 L922.65,864.9 L923.86,865.04 L925.06,865.19 L926.27,865.35 L927.48,865.51 L928.69,865.68 L929.9,865.86 L931.11,866.04 L932.32,866.22 L933.52,866.41 L934.73,866.6 L935.94,866.79 L937.15,866.98 L938.36,867.18 L939.57,867.38 L940.78,867.58 L941.98,867.78 L943.19,867.98 L944.4,868.18 L945.61,868.38 L946.82,868.57 L948.03,868.77 L949.24,868.96 L950.45,869.15 L951.65,869.34 L952.86,869.52 L954.07,869.7 L955.28,869.87 L956.49,870.04 L957.7,870.2 L958.91,870.36 L960.11,870.51 L961.32,870.66 L962.53,870.79 L963.74,870.92 L964.95,871.05 L966.16,871.16 L967.37,871.27 L968.58,871.36 L969.78,871.45 L970.99,871.53 L972.2,871.6 L973.41,871.66 L974.62,871.72 L975.83,871.76 L977.04,871.79 L978.24,871.81 L979.45,871.83 L980.66,871.83 L981.87,871.82 L983.08,871.81 L984.29,871.78 L985.5,871.75 L986.71,871.7 L987.91,871.65 L989.12,871.58 L990.33,871.51 L991.54,871.42 L992.75,871.33 L993.96,871.23 L995.17,871.12 L996.37,871.01 L997.58,870.88 L998.79,870.75 L1000,870.61 L1001.21,870.46 L1002.42,870.31 L1003.63,870.15 L1004.83,869.98 L1006.04,869.81 L1007.25,869.64 L1008.46,869.46 L1009.67,869.27 L1010.88,869.09 L1012.09,868.9 L1013.3,868.7 L1014.5,868.51 L1015.71,868.31 L1016.92,868.11 L1018.13,867.91 L1019.34,867.71 L1020.55,867.51 L1021.76,867.31 L1022.96,867.11 L1024.17,866.92 L1025.38,866.72 L1026.59,866.53 L1027.8,866.34 L1029.01,866.15 L1030.22,865.97 L1031.43,865.8 L1032.63,865.62 L1033.84,865.46 L1035.05,865.29 L1036.26,865.14 L1037.47,864.99 L1038.68,864.85 L1039.89,864.71 L1041.09,864.58 L1042.3,864.46 L1043.51,864.35 L1044.72,864.25 L1045.93,864.15 L1047.14,864.07 L1048.35,863.99 L1049.56,863.92 L1050.76,863.86 L1051.97,863.81 L1053.18,863.77 L1054.39,863.74 L1055.6,863.72 L1056.81,863.71 L1058.02,863.71 L1059.22,863.72 L1060.43,863.74 L1061.64,863.77 L1062.85,863.81 L1064.06,863.86 L1065.27,863.92 L1066.48,863.98 L1067.68,864.06 L1068.89,864.15 L1070.1,864.24 L1071.31,864.34 L1072.52,864.45 L1073.73,864.57 L1074.94,864.7 L1076.15,864.84 L1077.35,864.98 L1078.56,865.13 L1079.77,865.28 L1080.98,865.44 L1082.19,865.61 L1083.4,865.78 L1084.61,865.96 L1085.81,866.14 L1087.02,866.32 L1088.23,866.51 L1089.44,866.71 L1090.65,866.9 L1091.86,867.1 L1093.07,867.29 L1094.28,867.49 L1095.48,867.69 L1096.69,867.89 L1097.9,868.09 L1099.11,868.29 L1100.32,868.49 L1101.53,868.69 L1102.74,868.88 L1103.94,869.07 L1105.15,869.26 L1106.36,869.45 L1107.57,869.63 L1108.78,869.8 L1109.99,869.97 L1111.2,870.14 L1112.41,870.3 L1113.61,870.45 L1114.82,870.6 L1116.03,870.74 L1117.24,870.87 L1118.45,871 L1119.66,871.12 L1120.87,871.22 L1122.07,871.33 L1123.28,871.42 L1124.49,871.5 L1125.7,871.58 L1126.91,871.64 L1128.12,871.7 L1129.33,871.74 L1130.53,871.78 L1131.74,871.81 L1132.95,871.82 L1134.16,871.83 L1135.37,871.83 L1136.58,871.82 L1137.79,871.79 L1139,871.76 L1140.2,871.72 L1141.41,871.67 L1142.62,871.61 L1143.83,871.54 L1145.04,871.46 L1146.25,871.37 L1147.46,871.27 L1148.66,871.16 L1149.87,871.05 L1151.08,870.93 L1152.29,870.8 L1153.5,870.66 L1154.71,870.52 L1155.92,870.37 L1157.13,870.21 L1158.33,870.05 L1159.54,869.88 L1160.75,869.7 L1161.96,869.53 L1163.17,869.34 L1164.38,869.16 L1165.59,868.97 L1166.79,868.77 L1168,868.58 L1169.21,868.38 L1170.42,868.18 L1171.63,867.98 L1172.84,867.78 L1174.05,867.58 L1175.26,867.38 L1176.46,867.18 L1177.67,866.99 L1178.88,866.79 L1180.09,866.6 L1181.3,866.41 L1182.51,866.22 L1183.72,866.04 L1184.92,865.86 L1186.13,865.68 L1187.34,865.51 L1188.55,865.35 L1189.76,865.19 L1190.97,865.04 L1192.18,864.9 L1193.38,864.76 L1194.59,864.63 L1195.8,864.5 L1197.01,864.39 L1198.22,864.28 L1199.43,864.18 L1200.64,864.09 L1201.85,864.01 L1203.05,863.94 L1204.26,863.88 L1205.47,863.83 L1206.68,863.79 L1207.89,863.75 L1209.1,863.73 L1210.31,863.72 L1211.51,863.71 L1212.72,863.72 L1213.93,863.73 L1215.14,863.76 L1216.35,863.8 L1217.56,863.84 L1218.77,863.9 L1219.98,863.96 L1221.18,864.03 L1222.39,864.12 L1223.6,864.21 L1224.81,864.31 L1226.02,864.42 L1227.23,864.53 L1228.44,864.66 L1229.64,864.79 L1230.85,864.93 L1232.06,865.08 L1233.27,865.23 L1234.48,865.39 L1235.69,865.55 L1236.9,865.73 L1238.1,865.9 L1239.31,866.08 L1240.52,866.27 L1241.73,866.45 L1242.94,866.64 L1244.15,866.84 L1245.36,867.03 L1246.57,867.23 L1247.77,867.43 L1248.98,867.63 L1250.19,867.83 L1251.4,868.03 L1252.61,868.23 L1253.82,868.43 L1255.03,868.63 L1256.23,868.82 L1257.44,869.01 L1258.65,869.2 L1259.86,869.39 L1261.07,869.57 L1262.28,869.75 L1263.49,869.92 L1264.7,870.09 L1265.9,870.25 L1267.11,870.41 L1268.32,870.55 L1269.53,870.7 L1270.74,870.83 L1271.95,870.96 L1273.16,871.08 L1274.36,871.19 L1275.57,871.3 L1276.78,871.39 L1277.99,871.48 L1279.2,871.56 L1280.41,871.62 L1281.62,871.68 L1282.83,871.73 L1284.03,871.77 L1285.24,871.8 L1286.45,871.82 L1287.66,871.83 L1288.87,871.83 L1290.08,871.82 L1291.29,871.8 L1292.49,871.77 L1293.7,871.73 L1294.91,871.68 L1296.12,871.63 L1297.33,871.56 L1298.54,871.48 L1299.75,871.39 L1300.95,871.3 L1302.16,871.2 L1303.37,871.08 L1304.58,870.96 L1305.79,870.84 L1307,870.7 L1308.21,870.56 L1309.42,870.41 L1310.62,870.26 L1311.83,870.09 L1313.04,869.93 L1314.25,869.75 L1315.46,869.58 L1316.67,869.39 L1317.88,869.21 L1319.08,869.02 L1320.29,868.83 L1321.5,868.63 L1322.71,868.44 L1323.92,868.24 L1325.13,868.04 L1326.34,867.84 L1327.55,867.64 L1328.75,867.44 L1329.96,867.24 L1331.17,867.04 L1332.38,866.84 L1333.59,866.65 L1334.8,866.46 L1336.01,866.27 L1337.21,866.09 L1338.42,865.91 L1339.63,865.73 L1340.84,865.56 L1342.05,865.39 L1343.26,865.23 L1344.47,865.08 L1345.68,864.93 L1346.88,864.79 L1348.09,864.66 L1349.3,864.54 L1350.51,864.42 L1351.72,864.31 L1352.93,864.21 L1354.14,864.12 L1355.34,864.04 L1356.55,863.96 L1357.76,863.9 L1358.97,863.84 L1360.18,863.8 L1361.39,863.76 L1362.6,863.73 L1363.8,863.72 L1365.01,863.71 L1366.22,863.72 L1367.43,863.73 L1368.64,863.75 L1369.85,863.78 L1371.06,863.83 L1372.27,863.88 L1373.47,863.94 L1374.68,864.01 L1375.89,864.09 L1377.1,864.18 L1378.31,864.28 L1379.52,864.39 L1380.73,864.5 L1381.93,864.63 L1383.14,864.76 L1384.35,864.89 L1385.56,865.04 L1386.77,865.19 L1387.98,865.35 L1389.19,865.51 L1390.4,865.68 L1391.6,865.86 L1392.81,866.03 L1394.02,866.22 L1395.23,866.4 L1396.44,866.59 L1397.65,866.79 L1398.86,866.98 L1400.06,867.18 L1401.27,867.38 L1402.48,867.58 L1403.69,867.78 L1404.9,867.98 L1406.11,868.18 L1407.32,868.38 L1408.53,868.58 L1409.73,868.77 L1410.94,868.97 L1412.15,869.16 L1413.36,869.34 L1414.57,869.53 L1415.78,869.7 L1416.99,869.88 L1418.19,870.05 L1419.4,870.21 L1420.61,870.37 L1421.82,870.52 L1423.03,870.66 L1424.24,870.8 L1425.45,870.93 L1426.65,871.05 L1427.86,871.17 L1429.07,871.27 L1430.28,871.37 L1431.49,871.46 L1432.7,871.54 L1433.91,871.61 L1435.12,871.67 L1436.32,871.72 L1437.53,871.76 L1438.74,871.79 L1439.95,871.82 L1441.16,871.83 L1442.37,871.83 L1443.58,871.82 L1444.78,871.81 L1445.99,871.78 L1447.2,871.74 L1448.41,871.7 L1449.62,871.64 L1450.83,871.57 L1452.04,871.5 L1453.25,871.42 L1454.45,871.32 L1455.66,871.22 L1456.87,871.11 L1458.08,870.99 L1459.29,870.87 L1460.5,870.74 L1461.71,870.59 L1462.91,870.45 L1464.12,870.29 L1465.33,870.13 L1466.54,869.97 L1467.75,869.8 L1468.96,869.62 L1470.17,869.44 L1471.38,869.25 L1472.58,869.07 L1473.79,868.87 L1475,868.68 L1476.21,868.48 L1477.42,868.29 L1478.63,868.09 L1479.84,867.89 L1481.04,867.69 L1482.25,867.48 L1483.46,867.29 L1484.67,867.09 L1485.88,866.89 L1487.09,866.7 L1488.3,866.5 L1489.5,866.31 L1490.71,866.13 L1491.92,865.95 L1493.13,865.77 L1494.34,865.6 L1495.55,865.43 L1496.76,865.27 L1497.97,865.12 L1499.17,864.97 L1500.38,864.83 L1501.59,864.69 L1502.8,864.57 L1504.01,864.45 L1505.22,864.34 L1506.43,864.23 L1507.63,864.14 L1508.84,864.05 L1510.05,863.98 L1511.26,863.91 L1512.47,863.85 L1513.68,863.81 L1514.89,863.77 L1516.1,863.74 L1517.3,863.72 L1518.51,863.71 L1519.72,863.71 L1520.93,863.72 L1522.14,863.75 L1523.35,863.78 L1524.56,863.82 L1525.76,863.87 L1526.97,863.93 L1528.18,864 L1529.39,864.07 L1530.6,864.16 L1531.81,864.26 L1533.02,864.36 L1534.23,864.48 L1535.43,864.6 L1536.64,864.73 L1537.85,864.86 L1539.06,865 L1540.27,865.15 L1541.48,865.31 L1542.69,865.47 L1543.89,865.64 L1545.1,865.82 L1546.31,865.99 L1547.52,866.18 L1548.73,866.36 L1549.94,866.55 L1551.15,866.74 L1552.35,866.94 L1553.56,867.14 L1554.77,867.34 L1555.98,867.53 L1557.19,867.74 L1558.4,867.94 L1559.61,868.14 L1560.82,868.34 L1562.02,868.53 L1563.23,868.73 L1564.44,868.92 L1565.65,869.11 L1566.86,869.3 L1568.07,869.48 L1569.28,869.66 L1570.48,869.84 L1571.69,870.01 L1572.9,870.17 L1574.11,870.33 L1575.32,870.48 L1576.53,870.63 L1577.74,870.77 L1578.95,870.9 L1580.15,871.02 L1581.36,871.14 L1582.57,871.25 L1583.78,871.35 L1584.99,871.44 L1586.2,871.52 L1587.41,871.59 L1588.61,871.66 L1589.82,871.71 L1591.03,871.75 L1592.24,871.79 L1593.45,871.81 L1594.66,871.83 L1595.87,871.83 L1597.08,871.83 L1598.28,871.81 L1599.49,871.79 L1600.7,871.75 L1601.91,871.71 L1603.12,871.65 L1604.33,871.59 L1605.54,871.52 L1606.74,871.44 L1607.95,871.34 L1609.16,871.25 L1610.37,871.14 L1611.58,871.02 L1612.79,870.9 L1614,870.76 L1615.2,870.63 L1616.41,870.48 L1617.62,870.33 L1618.83,870.17 L1620.04,870 L1621.25,869.83 L1622.46,869.66 L1623.67,869.48 L1624.87,869.29 L1626.08,869.11 L1627.29,868.92 L1628.5,868.72" stroke="#ff0000" stroke-dasharray="28 6 14 6" stroke-dashoffset="23.6"/>
<path d="M179.09,865.86 L180.3,865.59 L181.51,865.43 L182.72,865.36 L183.93,865.36 L185.13,865.43 L186.34,865.55 L187.55,865.72 L188.76,865.93 L189.97,866.18 L191.17,866.45 L192.38,866.76 L193.59,867.08 L194.8,867.42 L196,867.77 L197.21,868.14 L198.42,868.52 L199.63,868.91 L200.84,869.3 L202.04,869.7 L203.25,870.1 L204.46,870.5 L205.67,870.9 L206.87,871.3 L208.08,871.69 L209.29,872.08 L210.5,872.47 L211.71,872.85 L212.91,873.22 L214.12,873.58 L215.33,873.93 L216.54,874.27 L217.75,874.6 L218.95,874.91 L220.16,875.21 L221.37,875.49 L222.58,875.76 L223.78,876.01 L224.99,876.24 L226.2,876.45 L227.41,876.64 L228.62,876.8 L229.82,876.95 L231.03,877.07 L232.24,877.17 L233.45,877.24 L234.66,877.28 L235.86,877.31 L237.07,877.3 L238.28,877.27 L239.49,877.21 L240.69,877.12 L241.9,877 L243.11,876.86 L244.32,876.69 L245.53,876.49 L246.73,876.27 L247.94,876.02 L249.15,875.74 L250.36,875.44 L251.56,875.11 L252.77,874.76 L253.98,874.38 L255.19,873.99 L256.4,873.57 L257.6,873.13 L258.81,872.68 L260.02,872.21 L261.23,871.72 L262.44,871.22 L263.64,870.71 L264.85,870.19 L266.06,869.67 L267.27,869.13 L268.47,868.6 L269.68,868.06 L270.89,867.52 L272.1,866.98 L273.31,866.45 L274.51,865.92 L275.72,865.4 L276.93,864.9 L278.14,864.4 L279.35,863.92 L280.55,863.45 L281.76,863.01 L282.97,862.58 L284.18,862.17 L285.38,861.79 L286.59,861.42 L287.8,861.09 L289.01,860.78 L290.22,860.5 L291.42,860.24 L292.63,860.02 L293.84,859.82 L295.05,859.66 L296.25,859.53 L297.46,859.43 L298.67,859.35 L299.88,859.31 L301.09,859.31 L302.29,859.33 L303.5,859.38 L304.71,859.47 L305.92,859.58 L307.13,859.72 L308.33,859.89 L309.54,860.09 L310.75,860.31 L311.96,860.56 L313.16,860.83 L314.37,861.13 L315.58,861.44 L316.79,861.78 L318,862.13 L319.2,862.51 L320.41,862.89 L321.62,863.29 L322.83,863.71 L324.04,864.13 L325.24,864.57 L326.45,865.01 L327.66,865.46 L328.87,865.91 L330.07,866.36 L331.28,866.82 L332.49,867.28 L333.7,867.73 L334.91,868.19 L336.11,868.64 L337.32,869.08 L338.53,869.51 L339.74,869.94 L340.94,870.36 L342.15,870.77 L343.36,871.16 L344.57,871.54 L345.78,871.91 L346.98,872.26 L348.19,872.6 L349.4,872.92 L350.61,873.23 L351.82,873.51 L353.02,873.78 L354.23,874.02 L355.44,874.25 L356.65,874.46 L357.85,874.65 L359.06,874.81 L360.27,874.96 L361.48,875.08 L362.69,875.19 L363.89,875.27 L365.1,875.33 L366.31,875.37 L367.52,875.39 L368.73,875.38 L369.93,875.36 L371.14,875.31 L372.35,875.25 L373.56,875.16 L374.76,875.06 L375.97,874.94 L377.18,874.79 L378.39,874.63 L379.6,874.46 L380.8,874.26 L382.01,874.05 L383.22,873.83 L384.43,873.59 L385.63,873.33 L386.84,873.06 L388.05,872.78 L389.26,872.49 L390.47,872.19 L391.67,871.88 L392.88,871.55 L394.09,871.22 L395.3,870.89 L396.51,870.54 L397.71,870.19 L398.92,869.84 L400.13,869.48 L401.34,869.12 L402.54,868.76 L403.75,868.39 L404.96,868.03 L406.17,867.67 L407.38,867.3 L408.58,866.95 L409.79,866.59 L411,866.24 L412.21,865.89 L413.42,865.55 L414.62,865.22 L415.83,864.89 L417.04,864.58 L418.25,864.27 L419.45,863.97 L420.66,863.68 L421.87,863.41 L423.08,863.14 L424.29,862.89 L425.49,862.65 L426.7,862.42 L427.91,862.21 L429.12,862.01 L430.32,861.83 L431.53,861.66 L432.74,861.51 L433.95,861.37 L435.16,861.25 L436.36,861.14 L437.57,861.06 L438.78,860.99 L439.99,860.93 L441.2,860.89 L442.4,860.87 L443.61,860.87 L444.82,860.88 L446.03,860.91 L447.23,860.96 L448.44,861.02 L449.65,861.1 L450.86,861.2 L452.07,861.31 L453.27,861.44 L454.48,861.58 L455.69,861.74 L456.9,861.91 L458.11,862.09 L459.31,862.29 L460.52,862.5 L461.73,862.72 L462.94,862.96 L464.14,863.21 L465.35,863.46 L466.56,863.73 L467.77,864 L468.98,864.29 L470.18,864.58 L471.39,864.88 L472.6,865.18 L473.81,865.49 L475.01,865.81 L476.22,866.12 L477.43,866.45 L478.64,866.77 L479.85,867.1 L481.05,867.42 L482.26,867.75 L483.47,868.08 L484.68,868.4 L485.89,868.72 L487.09,869.04 L488.3,869.36 L489.51,869.67 L490.72,869.97 L491.92,870.27 L493.13,870.56 L494.34,870.85 L495.55,871.13 L496.76,871.39 L497.96,871.65 L499.17,871.9 L500.38,872.14 L501.59,872.36 L502.8,872.58 L504,872.78 L505.21,872.97 L506.42,873.15 L507.63,873.31 L508.83,873.46 L510.04,873.59 L511.25,873.71 L512.46,873.82 L513.67,873.91 L514.87,873.99 L516.08,874.05 L517.29,874.09 L518.5,874.12 L519.7,874.14 L520.91,874.14 L522.12,874.12 L523.33,874.09 L524.54,874.04 L525.74,873.98 L526.95,873.9 L528.16,873.81 L529.37,873.7 L530.58,873.58 L531.78,873.45 L532.99,873.3 L534.2,873.14 L535.41,872.96 L536.61,872.78 L537.82,872.58 L539.03,872.37 L540.24,872.15 L541.45,871.92 L542.65,871.68 L543.86,871.43 L545.07,871.17 L546.28,870.91 L547.49,870.64 L548.69,870.36 L549.9,870.07 L551.11,869.78 L552.32,869.49 L553.52,869.19 L554.73,868.89 L555.94,868.59 L557.15,868.29 L558.36,867.98 L559.56,867.68 L560.77,867.38 L561.98,867.07 L563.19,866.78 L564.39,866.48 L565.6,866.19 L566.81,865.9 L568.02,865.62 L569.23,865.34 L570.43,865.07 L571.64,864.8 L572.85,864.55 L574.06,864.3 L575.27,864.06 L576.47,863.83 L577.68,863.61 L578.89,863.4 L580.1,863.21 L581.3,863.02 L582.51,862.85 L583.72,862.68 L584.93,862.53 L586.14,862.4 L587.34,862.27 L588.55,862.16 L589.76,862.07 L590.97,861.99 L592.18,861.92 L593.38,861.87 L594.59,861.83 L595.8,861.8 L597.01,861.79 L598.21,861.8 L599.42,861.82 L600.63,861.85 L601.84,861.9 L603.05,861.96 L604.25,862.04 L605.46,862.13 L606.67,862.23 L607.88,862.35 L609.08,862.48 L610.29,862.62 L611.5,862.78 L612.71,862.95 L613.92,863.12 L615.12,863.31 L616.33,863.51 L617.54,863.72 L618.75,863.94 L619.96,864.17 L621.16,864.41 L622.37,864.65 L623.58,864.9 L624.79,865.16 L625.99,865.43 L627.2,865.7 L628.41,865.97 L629.62,866.25 L630.83,866.53 L632.03,866.81 L633.24,867.1 L634.45,867.39 L635.66,867.67 L636.87,867.96 L638.07,868.25 L639.28,868.53 L640.49,868.82 L641.7,869.1 L642.9,869.37 L644.11,869.64 L645.32,869.91 L646.53,870.17 L647.74,870.43 L648.94,870.67 L650.15,870.91 L651.36,871.15 L652.57,871.37 L653.77,871.59 L654.98,871.79 L656.19,871.99 L657.4,872.17 L658.61,872.35 L659.81,872.51 L661.02,872.66 L662.23,872.8 L663.44,872.92 L664.65,873.04 L665.85,873.14 L667.06,873.23 L668.27,873.3 L669.48,873.36 L670.68,873.41 L671.89,873.44 L673.1,873.46 L674.31,873.46 L675.52,873.46 L676.72,873.43 L677.93,873.4 L679.14,873.35 L680.35,873.28 L681.56,873.21 L682.76,873.12 L683.97,873.01 L685.18,872.9 L686.39,872.77 L687.59,872.63 L688.8,872.48 L690.01,872.32 L691.22,872.15 L692.43,871.96 L693.63,871.77 L694.84,871.56 L696.05,871.35 L697.26,871.13 L698.46,870.9 L699.67,870.67 L700.88,870.42 L702.09,870.18 L703.3,869.92 L704.5,869.66 L705.71,869.4 L706.92,869.13 L708.13,868.86 L709.34,868.59 L710.54,868.31 L711.75,868.04 L712.96,867.76 L714.17,867.49 L715.37,867.21 L716.58,866.94 L717.79,866.67 L719,866.4 L720.21,866.14 L721.41,865.88 L722.62,865.63 L723.83,865.38 L725.04,865.14 L726.25,864.9 L727.45,864.67 L728.66,864.45 L729.87,864.24 L731.08,864.03 L732.28,863.84 L733.49,863.65 L734.7,863.48 L735.91,863.32 L737.12,863.16 L738.32,863.02 L739.53,862.89 L740.74,862.77 L741.95,862.67 L743.15,862.57 L744.36,862.49 L745.57,862.43 L746.78,862.37 L747.99,862.33 L749.19,862.3 L750.4,862.29 L751.61,862.29 L752.82,862.3 L754.03,862.33 L755.23,862.36 L756.44,862.42 L757.65,862.48 L758.86,862.56 L760.06,862.65 L761.27,862.75 L762.48,862.87 L763.69,862.99 L764.9,863.13 L766.1,863.28 L767.31,863.44 L768.52,863.61 L769.73,863.79 L770.94,863.98 L772.14,864.18 L773.35,864.39 L774.56,864.6 L775.77,864.83 L776.97,865.06 L778.18,865.29 L779.39,865.53 L780.6,865.78 L781.81,866.03 L783.01,866.29 L784.22,866.55 L785.43,866.81 L786.64,867.08 L787.84,867.34 L789.05,867.61 L790.26,867.88 L791.47,868.14 L792.68,868.41 L793.88,868.67 L795.09,868.93 L796.3,869.19 L797.51,869.44 L798.72,869.69 L799.92,869.94 L801.13,870.18 L802.34,870.41 L803.55,870.64 L804.75,870.86 L805.96,871.07 L807.17,871.27 L808.38,871.47 L809.59,871.65 L810.79,871.83 L812,872 L813.21,872.15 L814.42,872.3 L815.63,872.43 L816.83,872.55 L818.04,872.66 L819.25,872.76 L820.46,872.85 L821.66,872.92 L822.87,872.99 L824.08,873.03 L825.29,873.07 L826.5,873.09 L827.7,873.1 L828.91,873.1 L830.12,873.09 L831.33,873.06 L832.53,873.01 L833.74,872.96 L834.95,872.89 L836.16,872.81 L837.37,872.72 L838.57,872.62 L839.78,872.5 L840.99,872.38 L842.2,872.24 L843.41,872.09 L844.61,871.93 L845.82,871.76 L847.03,871.58 L848.24,871.4 L849.44,871.2 L850.65,870.99 L851.86,870.78 L853.07,870.56 L854.28,870.34 L855.48,870.1 L856.69,869.87 L857.9,869.62 L859.11,869.38 L860.32,869.13 L861.52,868.87 L862.73,868.61 L863.94,868.36 L865.15,868.1 L866.35,867.84 L867.56,867.58 L868.77,867.32 L869.98,867.06 L871.19,866.8 L872.39,866.55 L873.6,866.3 L874.81,866.05 L876.02,865.81 L877.22,865.57 L878.43,865.34 L879.64,865.11 L880.85,864.89 L882.06,864.68 L883.26,864.48 L884.47,864.28 L885.68,864.09 L886.89,863.91 L888.1,863.74 L889.3,863.58 L890.51,863.43 L891.72,863.3 L892.93,863.17 L894.13,863.05 L895.34,862.95 L896.55,862.85 L897.76,862.77 L898.97,862.7 L900.17,862.65 L901.38,862.6 L902.59,862.57 L903.8,862.56 L905.01,862.55 L906.21,862.56 L907.42,862.58 L908.63,862.61 L909.84,862.65 L911.04,862.71 L912.25,862.78 L913.46,862.86 L914.67,862.96 L915.88,863.06 L917.08,863.18 L918.29,863.31 L919.5,863.44 L920.71,863.59 L921.91,863.75 L923.12,863.92 L924.33,864.1 L925.54,864.29 L926.75,864.48 L927.95,864.68 L929.16,864.9 L930.37,865.11 L931.58,865.34 L932.79,865.57 L933.99,865.8 L935.2,866.04 L936.41,866.29 L937.62,866.53 L938.82,866.78 L940.03,867.04 L941.24,867.29 L942.45,867.54 L943.66,867.8 L944.86,868.06 L946.07,868.31 L947.28,868.56 L948.49,868.81 L949.7,869.06 L950.9,869.31 L952.11,869.55 L953.32,869.79 L954.53,870.02 L955.73,870.24 L956.94,870.46 L958.15,870.68 L959.36,870.88 L960.57,871.08 L961.77,871.27 L962.98,871.46 L964.19,871.63 L965.4,871.79 L966.6,871.95 L967.81,872.09 L969.02,872.22 L970.23,872.34 L971.44,872.45 L972.64,872.55 L973.85,872.64 L975.06,872.72 L976.27,872.78 L977.48,872.83 L978.68,872.87 L979.89,872.9 L981.1,872.91 L982.31,872.91 L983.51,872.9 L984.72,872.88 L985.93,872.84 L987.14,872.79 L988.35,872.73 L989.55,872.66 L990.76,872.58 L991.97,872.48 L993.18,872.37 L994.39,872.25 L995.59,872.12 L996.8,871.98 L998.01,871.83 L999.22,871.67 L1000.42,871.5 L1001.63,871.33 L1002.84,871.14 L1004.05,870.94 L1005.26,870.74 L1006.46,870.53 L1007.67,870.31 L1008.88,870.09 L1010.09,869.86 L1011.29,869.63 L1012.5,869.39 L1013.71,869.15 L1014.92,868.9 L1016.13,868.66 L1017.33,868.41 L1018.54,868.16 L1019.75,867.9 L1020.96,867.65 L1022.17,867.4 L1023.37,867.15 L1024.58,866.9 L1025.79,866.65 L1027,866.41 L1028.2,866.17 L1029.41,865.93 L1030.62,865.7 L1031.83,865.47 L1033.04,865.25 L1034.24,865.04 L1035.45,864.83 L1036.66,864.63 L1037.87,864.43 L1039.08,864.25 L1040.28,864.07 L1041.49,863.9 L1042.7,863.74 L1043.91,863.6 L1045.11,863.46 L1046.32,863.33 L1047.53,863.21 L1048.74,863.11 L1049.95,863.01 L1051.15,862.93 L1052.36,862.86 L1053.57,862.8 L1054.78,862.76 L1055.98,862.72 L1057.19,862.7 L1058.4,862.69 L1059.61,862.69 L1060.82,862.71 L1062.02,862.74 L1063.23,862.77 L1064.44,862.83 L1065.65,862.89 L1066.86,862.97 L1068.06,863.05 L1069.27,863.15 L1070.48,863.26 L1071.69,863.38 L1072.89,863.52 L1074.1,863.66 L1075.31,863.81 L1076.52,863.97 L1077.73,864.14 L1078.93,864.32 L1080.14,864.51 L1081.35,864.71 L1082.56,864.91 L1083.77,865.12 L1084.97,865.34 L1086.18,865.56 L1087.39,865.79 L1088.6,866.02 L1089.8,866.25 L1091.01,866.5 L1092.22,866.74 L1093.43,866.98 L1094.64,867.23 L1095.84,867.48 L1097.05,867.73 L1098.26,867.98 L1099.47,868.23 L1100.67,868.48 L1101.88,868.72 L1103.09,868.97 L1104.3,869.21 L1105.51,869.45 L1106.71,869.68 L1107.92,869.91 L1109.13,870.13 L1110.34,870.35 L1111.55,870.56 L1112.75,870.76 L1113.96,870.96 L1115.17,871.15 L1116.38,871.33 L1117.58,871.5 L1118.79,871.66 L1120,871.82 L1121.21,871.96 L1122.42,872.09 L1123.62,872.22 L1124.83,872.33 L1126.04,872.43 L1127.25,872.52 L1128.46,872.6 L1129.66,872.66 L1130.87,872.72 L1132.08,872.76 L1133.29,872.79 L1134.49,872.8 L1135.7,872.81 L1136.91,872.8 L1138.12,872.78 L1139.33,872.75 L1140.53,872.71 L1141.74,872.65 L1142.95,872.59 L1144.16,872.51 L1145.36,872.42 L1146.57,872.31 L1147.78,872.2 L1148.99,872.08 L1150.2,871.94 L1151.4,871.8 L1152.61,871.65 L1153.82,871.48 L1155.03,871.31 L1156.24,871.13 L1157.44,870.94 L1158.65,870.74 L1159.86,870.54 L1161.07,870.33 L1162.27,870.11 L1163.48,869.89 L1164.69,869.66 L1165.9,869.43 L1167.11,869.19 L1168.31,868.95 L1169.52,868.71 L1170.73,868.46 L1171.94,868.22 L1173.15,867.97 L1174.35,867.72 L1175.56,867.47 L1176.77,867.23 L1177.98,866.98 L1179.18,866.74 L1180.39,866.5 L1181.6,866.26 L1182.81,866.03 L1184.02,865.8 L1185.22,865.57 L1186.43,865.35 L1187.64,865.14 L1188.85,864.93 L1190.05,864.73 L1191.26,864.54 L1192.47,864.35 L1193.68,864.18 L1194.89,864.01 L1196.09,863.85 L1197.3,863.7 L1198.51,863.56 L1199.72,863.43 L1200.93,863.31 L1202.13,863.21 L1203.34,863.11 L1204.55,863.03 L1205.76,862.95 L1206.96,862.89 L1208.17,862.84 L1209.38,862.8 L1210.59,862.78 L1211.8,862.77 L1213,862.77 L1214.21,862.78 L1215.42,862.8 L1216.63,862.84 L1217.84,862.88 L1219.04,862.94 L1220.25,863.01 L1221.46,863.1 L1222.67,863.19 L1223.87,863.3 L1225.08,863.41 L1226.29,863.54 L1227.5,863.67 L1228.71,863.82 L1229.91,863.98 L1231.12,864.14 L1232.33,864.32 L1233.54,864.5 L1234.74,864.69 L1235.95,864.89 L1237.16,865.1 L1238.37,865.31 L1239.58,865.53 L1240.78,865.75 L1241.99,865.98 L1243.2,866.21 L1244.41,866.45 L1245.62,866.69 L1246.82,866.93 L1248.03,867.17 L1249.24,867.42 L1250.45,867.66 L1251.65,867.91 L1252.86,868.16 L1254.07,868.4 L1255.28,868.64 L1256.49,868.89 L1257.69,869.12 L1258.9,869.36 L1260.11,869.59 L1261.32,869.82 L1262.53,870.04 L1263.73,870.26 L1264.94,870.47 L1266.15,870.67 L1267.36,870.87 L1268.56,871.06 L1269.77,871.24 L1270.98,871.41 L1272.19,871.57 L1273.4,871.73 L1274.6,871.87 L1275.81,872.01 L1277.02,872.13 L1278.23,872.25 L1279.43,872.35 L1280.64,872.44 L1281.85,872.52 L1283.06,872.59 L1284.27,872.65 L1285.47,872.69 L1286.68,872.73 L1287.89,872.75 L1289.1,872.76 L1290.31,872.75 L1291.51,872.74 L1292.72,872.71 L1293.93,872.67 L1295.14,872.62 L1296.34,872.55 L1297.55,872.48 L1298.76,872.39 L1299.97,872.3 L1301.18,872.19 L1302.38,872.07 L1303.59,871.94 L1304.8,871.8 L1306.01,871.65 L1307.22,871.49 L1308.42,871.32 L1309.63,871.14 L1310.84,870.96 L1312.05,870.77 L1313.25,870.57 L1314.46,870.36 L1315.67,870.15 L1316.88,869.93 L1318.09,869.7 L1319.29,869.48 L1320.5,869.24 L1321.71,869.01 L1322.92,868.77 L1324.12,868.52 L1325.33,868.28 L1326.54,868.04 L1327.75,867.79 L1328.96,867.54 L1330.16,867.3 L1331.37,867.06 L1332.58,866.81 L1333.79,866.57 L1335,866.34 L1336.2,866.1 L1337.41,865.88 L1338.62,865.65 L1339.83,865.43 L1341.03,865.22 L1342.24,865.01 L1343.45,864.81 L1344.66,864.62 L1345.87,864.43 L1347.07,864.25 L1348.28,864.09 L1349.49,863.93 L1350.7,863.77 L1351.91,863.63 L1353.11,863.5 L1354.32,863.38 L1355.53,863.27 L1356.74,863.18 L1357.94,863.09 L1359.15,863.01 L1360.36,862.95 L1361.57,862.89 L1362.78,862.85 L1363.98,862.83 L1365.19,862.81 L1366.4,862.8 L1367.61,862.81 L1368.81,862.83 L1370.02,862.86 L1371.23,862.91 L1372.44,862.96 L1373.65,863.03 L1374.85,863.11 L1376.06,863.2 L1377.27,863.3 L1378.48,863.41 L1379.69,863.53 L1380.89,863.67 L1382.1,863.81 L1383.31,863.96 L1384.52,864.12 L1385.72,864.3 L1386.93,864.47 L1388.14,864.66 L1389.35,864.86 L1390.56,865.06 L1391.76,865.27 L1392.97,865.48 L1394.18,865.7 L1395.39,865.93 L1396.6,866.16 L1397.8,866.39 L1399.01,866.63 L1400.22,866.87 L1401.43,867.11 L1402.63,867.35 L1403.84,867.6 L1405.05,867.84 L1406.26,868.09 L1407.47,868.33 L1408.67,868.57 L1409.88,868.81 L1411.09,869.05 L1412.3,869.29 L1413.5,869.52 L1414.71,869.74 L1415.92,869.97 L1417.13,870.18 L1418.34,870.39 L1419.54,870.6 L1420.75,870.8 L1421.96,870.99 L1423.17,871.17 L1424.38,871.34 L1425.58,871.51 L1426.79,871.66 L1428,871.81 L1429.21,871.95 L1430.41,872.07 L1431.62,872.19 L1432.83,872.29 L1434.04,872.39 L1435.25,872.47 L1436.45,872.54 L1437.66,872.6 L1438.87,872.65 L1440.08,872.69 L1441.29,872.71 L1442.49,872.72 L1443.7,872.73 L1444.91,872.71 L1446.12,872.69 L1447.32,872.65 L1448.53,872.61 L1449.74,872.55 L1450.95,872.48 L1452.16,872.39 L1453.36,872.3 L1454.57,872.19 L1455.78,872.08 L1456.99,871.95 L1458.19,871.82 L1459.4,871.67 L1460.61,871.51 L1461.82,871.35 L1463.03,871.18 L1464.23,870.99 L1465.44,870.8 L1466.65,870.61 L1467.86,870.4 L1469.07,870.19 L1470.27,869.98 L1471.48,869.76 L1472.69,869.53 L1473.9,869.3 L1475.1,869.06 L1476.31,868.83 L1477.52,868.59 L1478.73,868.35 L1479.94,868.1 L1481.14,867.86 L1482.35,867.61 L1483.56,867.37 L1484.77,867.13 L1485.98,866.89 L1487.18,866.65 L1488.39,866.41 L1489.6,866.18 L1490.81,865.95 L1492.01,865.72 L1493.22,865.5 L1494.43,865.29 L1495.64,865.08 L1496.85,864.88 L1498.05,864.68 L1499.26,864.5 L1500.47,864.32 L1501.68,864.15 L1502.88,863.99 L1504.09,863.83 L1505.3,863.69 L1506.51,863.56 L1507.72,863.43 L1508.92,863.32 L1510.13,863.22 L1511.34,863.13 L1512.55,863.05 L1513.76,862.99 L1514.96,862.93 L1516.17,862.89 L1517.38,862.85 L1518.59,862.83 L1519.79,862.83 L1521,862.83 L1522.21,862.85 L1523.42,862.87 L1524.63,862.91 L1525.83,862.97 L1527.04,863.03 L1528.25,863.1 L1529.46,863.19 L1530.67,863.29 L1531.87,863.4 L1533.08,863.52 L1534.29,863.65 L1535.5,863.79 L1536.7,863.94 L1537.91,864.09 L1539.12,864.26 L1540.33,864.44 L1541.54,864.62 L1542.74,864.81 L1543.95,865.01 L1545.16,865.22 L1546.37,865.43 L1547.57,865.65 L1548.78,865.87 L1549.99,866.1 L1551.2,866.33 L1552.41,866.57 L1553.61,866.8 L1554.82,867.04 L1556.03,867.29 L1557.24,867.53 L1558.45,867.77 L1559.65,868.02 L1560.86,868.26 L1562.07,868.5 L1563.28,868.74 L1564.48,868.98 L1565.69,869.22 L1566.9,869.45 L1568.11,869.67 L1569.32,869.9 L1570.52,870.11 L1571.73,870.33 L1572.94,870.53 L1574.15,870.73 L1575.36,870.92 L1576.56,871.11 L1577.77,871.28 L1578.98,871.45 L1580.19,871.61 L1581.39,871.76 L1582.6,871.9 L1583.81,872.02 L1585.02,872.14 L1586.23,872.25 L1587.43,872.35 L1588.64,872.43 L1589.85,872.51 L1591.06,872.57 L1592.26,872.62 L1593.47,872.66 L1594.68,872.69 L1595.89,872.71 L1597.1,872.71 L1598.3,872.7 L1599.51,872.68 L1600.72,872.65 L1601.93,872.61 L1603.14,872.55 L1604.34,872.48 L1605.55,872.4 L1606.76,872.31 L1607.97,872.21 L1609.17,872.1 L1610.38,871.98 L1611.59,871.84 L1612.8,871.7 L1614.01,871.55 L1615.21,871.39 L1616.42,871.21 L1617.63,871.04 L1618.84,870.85 L1620.05,870.65 L1621.25,870.45 L1622.46,870.25 L1623.67,870.03 L1624.88,869.81 L1626.08,869.59 L1627.29,869.36 L1628.5,869.13" stroke="#0000ff" stroke-dasharray="28 26" stroke-dashoffset="47.76"/>
<path d="M161,585.6 V603 M161,624 V656.4 M161,678 V711 M163.5,707 V724 M161,731.7 V779.6 M163.5,760 V779.6 M161,786 V895.5 M163.6,786 V895.5 M166,800 V893 M168.5,838 V885 M171,842 V874 M162.2,899 V950 M164.5,899 V950 M162,954 V994.8 M163,967 V982 M162,1008 V1049.8" stroke="#0000ff"/>
</g>
<g font-family="'Liberation Sans', Arial, Helvetica, sans-serif" fill="#222222">
<text transform="translate(129.7,41.5) scale(1,1.04)" font-size="34.2" text-anchor="end">50</text>
<text transform="translate(129.7,207.21) scale(1,1.04)" font-size="34.2" text-anchor="end">40</text>
<text transform="translate(129.7,372.93) scale(1,1.04)" font-size="34.2" text-anchor="end">30</text>
<text transform="translate(129.7,538.64) scale(1,1.04)" font-size="34.2" text-anchor="end">20</text>
<text transform="translate(129.7,704.36) scale(1,1.04)" font-size="34.2" text-anchor="end">10</text>
<text transform="translate(135.2,870.07) scale(1,1.04)" font-size="34.2" text-anchor="end">0</text>
<text transform="translate(123.9,1035.79) scale(1,1.04)" font-size="34.2" text-anchor="end">-10</text>
<text transform="translate(123.9,1201.5) scale(1,1.04)" font-size="34.2" text-anchor="end">-20</text>
<text transform="translate(156.5,1248.6) scale(1,1.04)" font-size="34.2" text-anchor="middle">0</text>
<text transform="translate(401.17,1248.6) scale(1,1.04)" font-size="34.2" text-anchor="middle">5</text>
<text transform="translate(644.03,1248.6) scale(1,1.04)" font-size="34.2" text-anchor="middle">10</text>
<text transform="translate(888.7,1248.6) scale(1,1.04)" font-size="34.2" text-anchor="middle">15</text>
<text transform="translate(1133.37,1248.6) scale(1,1.04)" font-size="34.2" text-anchor="middle">20</text>
<text transform="translate(1378.03,1248.6) scale(1,1.04)" font-size="34.2" text-anchor="middle">25</text>
<text transform="translate(1622.7,1248.6) scale(1,1.04)" font-size="34.2" text-anchor="middle">30</text>
<text transform="translate(875.3,1312) scale(1,0.99)" font-size="36.9" text-anchor="middle">time(s)</text>
<text transform="translate(37.2,671.2) rotate(-90) scale(1,1.02)" font-size="37.1" text-anchor="middle">tracking trajectory</text>
</g>
<rect x="492.6" y="188.4" width="560.85" height="510.6" fill="#fff"/>
<path d="M498,188.4 V699 M701.56,188.4 V699 M905.12,188.4 V699 M492.6,206.45 H1053.45 M492.6,326.19 H1053.45 M492.6,445.93 H1053.45 M492.6,565.66 H1053.45 M492.6,685.4 H1053.45" stroke="#dfdfdf" stroke-width="2.8" fill="none"/>
<path d="M498,188.4 V699" stroke="#dfdfdf" stroke-width="3.75" fill="none"/>
<path d="M498,188.4 v6.4 M498,699 v-6.800000000000001 M701.56,188.4 v6.4 M701.56,699 v-6.800000000000001 M905.12,188.4 v6.4 M905.12,699 v-6.800000000000001 M492.6,206.45 h6.4 M1053.45,206.45 h-6.4 M492.6,326.19 h6.4 M1053.45,326.19 h-6.4 M492.6,445.93 h6.4 M1053.45,445.93 h-6.4 M492.6,565.66 h6.4 M1053.45,565.66 h-6.4 M492.6,685.4 h6.4 M1053.45,685.4 h-6.4" stroke="#222222" stroke-width="2.8" fill="none"/>
<path d="M498,188.4 v6.4 M498,699 v-6.800000000000001" stroke="#222222" stroke-width="3.75" fill="none"/>
<path d="M492.6,699 V188.4 H1053.45 V699" stroke="#222222" stroke-width="2.8" fill="none" stroke-linejoin="miter"/>
<path d="M491.2,699 H1054.85" stroke="#222222" stroke-width="3.6" fill="none"/>
<g fill="none" stroke-width="10" stroke-linejoin="round" shape-rendering="crispEdges">
<path d="M492.6,560.4 L493.4,558.91 L494.2,557.39 L495,555.85 L495.8,554.28 L496.61,552.68 L497.41,551.06 L498.21,549.41 L499.01,547.73 L499.81,546.03 L500.61,544.3 L501.41,542.55 L502.21,540.78 L503.02,538.98 L503.82,537.16 L504.62,535.32 L505.42,533.45 L506.22,531.56 L507.02,529.66 L507.82,527.73 L508.62,525.78 L509.43,523.81 L510.23,521.82 L511.03,519.81 L511.83,517.79 L512.63,515.74 L513.43,513.68 L514.23,511.6 L515.03,509.51 L515.84,507.4 L516.64,505.28 L517.44,503.14 L518.24,500.98 L519.04,498.81 L519.84,496.63 L520.64,494.44 L521.44,492.24 L522.24,490.02 L523.05,487.79 L523.85,485.55 L524.65,483.31 L525.45,481.05 L526.25,478.78 L527.05,476.51 L527.85,474.23 L528.65,471.94 L529.46,469.64 L530.26,467.34 L531.06,465.04 L531.86,462.73 L532.66,460.41 L533.46,458.09 L534.26,455.77 L535.06,453.45 L535.87,451.12 L536.67,448.79 L537.47,446.46 L538.27,444.14 L539.07,441.81 L539.87,439.48 L540.67,437.16 L541.47,434.83 L542.28,432.51 L543.08,430.2 L543.88,427.88 L544.68,425.58 L545.48,423.27 L546.28,420.97 L547.08,418.68 L547.88,416.4 L548.68,414.12 L549.49,411.85 L550.29,409.59 L551.09,407.34 L551.89,405.1 L552.69,402.86 L553.49,400.64 L554.29,398.43 L555.09,396.23 L555.9,394.04 L556.7,391.87 L557.5,389.71 L558.3,387.56 L559.1,385.43 L559.9,383.32 L560.7,381.21 L561.5,379.13 L562.31,377.06 L563.11,375.01 L563.91,372.97 L564.71,370.96 L565.51,368.96 L566.31,366.98 L567.11,365.02 L567.91,363.09 L568.72,361.17 L569.52,359.27 L570.32,357.39 L571.12,355.54 L571.92,353.71 L572.72,351.9 L573.52,350.12 L574.32,348.35 L575.13,346.62 L575.93,344.9 L576.73,343.22 L577.53,341.55 L578.33,339.92 L579.13,338.31 L579.93,336.72 L580.73,335.17 L581.53,333.64 L582.34,332.14 L583.14,330.67 L583.94,329.22 L584.74,327.81 L585.54,326.42 L586.34,325.06 L587.14,323.74 L587.94,322.44 L588.75,321.18 L589.55,319.94 L590.35,318.74 L591.15,317.57 L591.95,316.43 L592.75,315.32 L593.55,314.24 L594.35,313.2 L595.16,312.19 L595.96,311.21 L596.76,310.27 L597.56,309.36 L598.36,308.48 L599.16,307.64 L599.96,306.83 L600.76,306.06 L601.57,305.32 L602.37,304.62 L603.17,303.95 L603.97,303.32 L604.77,302.72 L605.57,302.16 L606.37,301.63 L607.17,301.14 L607.97,300.68 L608.78,300.26 L609.58,299.88 L610.38,299.53 L611.18,299.22 L611.98,298.95 L612.78,298.71 L613.58,298.51 L614.38,298.34 L615.19,298.21 L615.99,298.12 L616.79,298.07 L617.59,298.05 L618.39,298.07 L619.19,298.12 L619.99,298.21 L620.79,298.34 L621.6,298.51 L622.4,298.71 L623.2,298.95 L624,299.22 L624.8,299.53 L625.6,299.88 L626.4,300.26 L627.2,300.68 L628.01,301.13 L628.81,301.63 L629.61,302.15 L630.41,302.71 L631.21,303.31 L632.01,303.95 L632.81,304.61 L633.61,305.32 L634.41,306.06 L635.22,306.83 L636.02,307.64 L636.82,308.48 L637.62,309.35 L638.42,310.26 L639.22,311.21 L640.02,312.18 L640.82,313.19 L641.63,314.24 L642.43,315.31 L643.23,316.42 L644.03,317.56 L644.83,318.73 L645.63,319.93 L646.43,321.17 L647.23,322.43 L648.04,323.73 L648.84,325.06 L649.64,326.41 L650.44,327.8 L651.24,329.21 L652.04,330.66 L652.84,332.13 L653.64,333.63 L654.45,335.16 L655.25,336.72 L656.05,338.3 L656.85,339.91 L657.65,341.55 L658.45,343.21 L659.25,344.9 L660.05,346.61 L660.86,348.34 L661.66,350.11 L662.46,351.89 L663.26,353.7 L664.06,355.53 L664.86,357.38 L665.66,359.26 L666.46,361.16 L667.26,363.08 L668.07,365.01 L668.87,366.97 L669.67,368.95 L670.47,370.95 L671.27,372.96 L672.07,375 L672.87,377.05 L673.67,379.12 L674.48,381.2 L675.28,383.3 L676.08,385.42 L676.88,387.55 L677.68,389.7 L678.48,391.86 L679.28,394.03 L680.08,396.22 L680.89,398.42 L681.69,400.63 L682.49,402.85 L683.29,405.08 L684.09,407.33 L684.89,409.58 L685.69,411.84 L686.49,414.11 L687.3,416.39 L688.1,418.67 L688.9,420.96 L689.7,423.26 L690.5,425.56 L691.3,427.87 L692.1,430.19 L692.9,432.5 L693.7,434.82 L694.51,437.15 L695.31,439.47 L696.11,441.8 L696.91,444.12 L697.71,446.45 L698.51,448.78 L699.31,451.11 L700.11,453.43 L700.92,455.76 L701.72,458.08 L702.52,460.4 L703.32,462.71 L704.12,465.02 L704.92,467.33 L705.72,469.63 L706.52,471.93 L707.33,474.21 L708.13,476.5 L708.93,478.77 L709.73,481.04 L710.53,483.29 L711.33,485.54 L712.13,487.78 L712.93,490.01 L713.74,492.22 L714.54,494.43 L715.34,496.62 L716.14,498.8 L716.94,500.97 L717.74,503.12 L718.54,505.26 L719.34,507.39 L720.14,509.5 L720.95,511.59 L721.75,513.67 L722.55,515.73 L723.35,517.78 L724.15,519.8 L724.95,521.81 L725.75,523.8 L726.55,525.77 L727.36,527.72 L728.16,529.65 L728.96,531.56 L729.76,533.44 L730.56,535.31 L731.36,537.15 L732.16,538.97 L732.96,540.77 L733.77,542.55 L734.57,544.3 L735.37,546.02 L736.17,547.72 L736.97,549.4 L737.77,551.05 L738.57,552.67 L739.37,554.27 L740.18,555.84 L740.98,557.39 L741.78,558.9 L742.58,560.39 L743.38,561.85 L744.18,563.28 L744.98,564.68 L745.78,566.06 L746.58,567.4 L747.39,568.71 L748.19,569.99 L748.99,571.24 L749.79,572.46 L750.59,573.65 L751.39,574.81 L752.19,575.94 L752.99,577.03 L753.8,578.09 L754.6,579.12 L755.4,580.11 L756.2,581.07 L757,582 L757.8,582.9 L758.6,583.76 L759.4,584.58 L760.21,585.38 L761.01,586.13 L761.81,586.86 L762.61,587.54 L763.41,588.2 L764.21,588.81 L765.01,589.39 L765.81,589.94 L766.62,590.45 L767.42,590.93 L768.22,591.37 L769.02,591.77 L769.82,592.13 L770.62,592.46 L771.42,592.76 L772.22,593.02 L773.03,593.24 L773.83,593.42 L774.63,593.57 L775.43,593.68 L776.23,593.76 L777.03,593.8 L777.83,593.8 L778.63,593.76 L779.43,593.69 L780.24,593.58 L781.04,593.44 L781.84,593.26 L782.64,593.04 L783.44,592.78 L784.24,592.49 L785.04,592.17 L785.84,591.8 L786.65,591.4 L787.45,590.97 L788.25,590.49 L789.05,589.99 L789.85,589.44 L790.65,588.87 L791.45,588.25 L792.25,587.6 L793.06,586.92 L793.86,586.2 L794.66,585.44 L795.46,584.65 L796.26,583.83 L797.06,582.97 L797.86,582.08 L798.66,581.16 L799.47,580.2 L800.27,579.21 L801.07,578.18 L801.87,577.12 L802.67,576.03 L803.47,574.91 L804.27,573.76 L805.07,572.57 L805.87,571.35 L806.68,570.1 L807.48,568.83 L808.28,567.52 L809.08,566.18 L809.88,564.81 L810.68,563.41 L811.48,561.98 L812.28,560.52 L813.09,559.03 L813.89,557.52 L814.69,555.98 L815.49,554.41 L816.29,552.82 L817.09,551.19 L817.89,549.55 L818.69,547.87 L819.5,546.17 L820.3,544.45 L821.1,542.7 L821.9,540.93 L822.7,539.13 L823.5,537.31 L824.3,535.47 L825.1,533.61 L825.91,531.72 L826.71,529.82 L827.51,527.89 L828.31,525.94 L829.11,523.97 L829.91,521.99 L830.71,519.98 L831.51,517.96 L832.31,515.91 L833.12,513.85 L833.92,511.78 L834.72,509.69 L835.52,507.58 L836.32,505.45 L837.12,503.31 L837.92,501.16 L838.72,499 L839.53,496.82 L840.33,494.62 L841.13,492.42 L841.93,490.2 L842.73,487.98 L843.53,485.74 L844.33,483.49 L845.13,481.24 L845.94,478.97 L846.74,476.7 L847.54,474.42 L848.34,472.13 L849.14,469.83 L849.94,467.53 L850.74,465.23 L851.54,462.92 L852.35,460.6 L853.15,458.29 L853.95,455.96 L854.75,453.64 L855.55,451.31 L856.35,448.99 L857.15,446.66 L857.95,444.33 L858.75,442 L859.56,439.68 L860.36,437.35 L861.16,435.03 L861.96,432.71 L862.76,430.39 L863.56,428.08 L864.36,425.77 L865.16,423.46 L865.97,421.17 L866.77,418.87 L867.57,416.59 L868.37,414.31 L869.17,412.04 L869.97,409.78 L870.77,407.53 L871.57,405.28 L872.38,403.05 L873.18,400.83 L873.98,398.61 L874.78,396.41 L875.58,394.23 L876.38,392.05 L877.18,389.89 L877.98,387.74 L878.79,385.61 L879.59,383.49 L880.39,381.39 L881.19,379.3 L881.99,377.23 L882.79,375.18 L883.59,373.14 L884.39,371.13 L885.19,369.13 L886,367.15 L886.8,365.19 L887.6,363.25 L888.4,361.33 L889.2,359.43 L890,357.55 L890.8,355.69 L891.6,353.86 L892.41,352.05 L893.21,350.26 L894.01,348.5 L894.81,346.76 L895.61,345.05 L896.41,343.36 L897.21,341.69 L898.01,340.05 L898.82,338.44 L899.62,336.86 L900.42,335.3 L901.22,333.77 L902.02,332.26 L902.82,330.79 L903.62,329.34 L904.42,327.92 L905.23,326.53 L906.03,325.18 L906.83,323.85 L907.63,322.55 L908.43,321.28 L909.23,320.04 L910.03,318.84 L910.83,317.66 L911.64,316.52 L912.44,315.41 L913.24,314.33 L914.04,313.28 L914.84,312.27 L915.64,311.29 L916.44,310.35 L917.24,309.43 L918.04,308.55 L918.85,307.71 L919.65,306.9 L920.45,306.12 L921.25,305.38 L922.05,304.68 L922.85,304 L923.65,303.37 L924.45,302.77 L925.26,302.2 L926.06,301.67 L926.86,301.18 L927.66,300.72 L928.46,300.3 L929.26,299.91 L930.06,299.56 L930.86,299.25 L931.67,298.97 L932.47,298.73 L933.27,298.52 L934.07,298.36 L934.87,298.22 L935.67,298.13 L936.47,298.07 L937.27,298.05 L938.08,298.06 L938.88,298.12 L939.68,298.2 L940.48,298.33 L941.28,298.49 L942.08,298.69 L942.88,298.92 L943.68,299.2 L944.48,299.5 L945.29,299.85 L946.09,300.23 L946.89,300.64 L947.69,301.1 L948.49,301.58 L949.29,302.11 L950.09,302.67 L950.89,303.26 L951.7,303.89 L952.5,304.56 L953.3,305.26 L954.1,305.99 L954.9,306.76 L955.7,307.57 L956.5,308.41 L957.3,309.28 L958.11,310.19 L958.91,311.13 L959.71,312.1 L960.51,313.11 L961.31,314.15 L962.11,315.22 L962.91,316.33 L963.71,317.46 L964.52,318.63 L965.32,319.83 L966.12,321.07 L966.92,322.33 L967.72,323.62 L968.52,324.95 L969.32,326.3 L970.12,327.68 L970.92,329.09 L971.73,330.54 L972.53,332.01 L973.33,333.51 L974.13,335.03 L974.93,336.59 L975.73,338.17 L976.53,339.77 L977.33,341.41 L978.14,343.07 L978.94,344.75 L979.74,346.46 L980.54,348.2 L981.34,349.96 L982.14,351.74 L982.94,353.55 L983.74,355.38 L984.55,357.23 L985.35,359.1 L986.15,361 L986.95,362.91 L987.75,364.85 L988.55,366.81 L989.35,368.79 L990.15,370.78 L990.96,372.8 L991.76,374.83 L992.56,376.88 L993.36,378.95 L994.16,381.03 L994.96,383.13 L995.76,385.24 L996.56,387.38 L997.37,389.52 L998.17,391.68 L998.97,393.85 L999.77,396.04 L1000.57,398.23 L1001.37,400.44 L1002.17,402.67 L1002.97,404.9 L1003.77,407.14 L1004.58,409.39 L1005.38,411.65 L1006.18,413.92 L1006.98,416.2 L1007.78,418.48 L1008.58,420.77 L1009.38,423.07 L1010.18,425.37 L1010.99,427.68 L1011.79,429.99 L1012.59,432.31 L1013.39,434.63 L1014.19,436.95 L1014.99,439.28 L1015.79,441.6 L1016.59,443.93 L1017.4,446.26 L1018.2,448.59 L1019,450.91 L1019.8,453.24 L1020.6,455.56 L1021.4,457.89 L1022.2,460.21 L1023,462.52 L1023.81,464.83 L1024.61,467.14 L1025.41,469.44 L1026.21,471.74 L1027.01,474.02 L1027.81,476.31 L1028.61,478.58 L1029.41,480.85 L1030.21,483.11 L1031.02,485.35 L1031.82,487.59 L1032.62,489.82 L1033.42,492.04 L1034.22,494.25 L1035.02,496.44 L1035.82,498.62 L1036.62,500.79 L1037.43,502.95 L1038.23,505.09 L1039.03,507.21 L1039.83,509.32 L1040.63,511.42 L1041.43,513.5 L1042.23,515.56 L1043.03,517.61 L1043.84,519.63 L1044.64,521.64 L1045.44,523.63 L1046.24,525.6 L1047.04,527.56 L1047.84,529.49 L1048.64,531.4 L1049.44,533.29 L1050.25,535.15 L1051.05,537 L1051.85,538.82 L1052.65,540.62 L1053.45,542.4" stroke="#000"/>
<path d="M492.6,560.4 L493.4,558.91 L494.2,557.39 L495,555.85 L495.8,554.28 L496.61,552.68 L497.41,551.06 L498.21,549.41 L499.01,547.73 L499.81,546.03 L500.61,544.3 L501.41,542.55 L502.21,540.78 L503.02,538.98 L503.82,537.16 L504.62,535.32 L505.42,533.45 L506.22,531.56 L507.02,529.66 L507.82,527.73 L508.62,525.78 L509.43,523.81 L510.23,521.82 L511.03,519.81 L511.83,517.79 L512.63,515.74 L513.43,513.68 L514.23,511.6 L515.03,509.51 L515.84,507.4 L516.64,505.28 L517.44,503.14 L518.24,500.98 L519.04,498.81 L519.84,496.63 L520.64,494.44 L521.44,492.24 L522.24,490.02 L523.05,487.79 L523.85,485.55 L524.65,483.31 L525.45,481.05 L526.25,478.78 L527.05,476.51 L527.85,474.23 L528.65,471.94 L529.46,469.64 L530.26,467.34 L531.06,465.04 L531.86,462.73 L532.66,460.41 L533.46,458.09 L534.26,455.77 L535.06,453.45 L535.87,451.12 L536.67,448.79 L537.47,446.46 L538.27,444.14 L539.07,441.81 L539.87,439.48 L540.67,437.16 L541.47,434.83 L542.28,432.51 L543.08,430.2 L543.88,427.88 L544.68,425.58 L545.48,423.27 L546.28,420.97 L547.08,418.68 L547.88,416.4 L548.68,414.12 L549.49,411.85 L550.29,409.59 L551.09,407.34 L551.89,405.1 L552.69,402.86 L553.49,400.64 L554.29,398.43 L555.09,396.23 L555.9,394.04 L556.7,391.87 L557.5,389.71 L558.3,387.56 L559.1,385.43 L559.9,383.32 L560.7,381.21 L561.5,379.13 L562.31,377.06 L563.11,375.01 L563.91,372.97 L564.71,370.96 L565.51,368.96 L566.31,366.98 L567.11,365.02 L567.91,363.09 L568.72,361.17 L569.52,359.27 L570.32,357.39 L571.12,355.54 L571.92,353.71 L572.72,351.9 L573.52,350.12 L574.32,348.35 L575.13,346.62 L575.93,344.9 L576.73,343.22 L577.53,341.55 L578.33,339.92 L579.13,338.31 L579.93,336.72 L580.73,335.17 L581.53,333.64 L582.34,332.14 L583.14,330.67 L583.94,329.22 L584.74,327.81 L585.54,326.42 L586.34,325.06 L587.14,323.74 L587.94,322.44 L588.75,321.18 L589.55,319.94 L590.35,318.74 L591.15,317.57 L591.95,316.43 L592.75,315.32 L593.55,314.24 L594.35,313.2 L595.16,312.19 L595.96,311.21 L596.76,310.27 L597.56,309.36 L598.36,308.48 L599.16,307.64 L599.96,306.83 L600.76,306.06 L601.57,305.32 L602.37,304.62 L603.17,303.95 L603.97,303.32 L604.77,302.72 L605.57,302.16 L606.37,301.63 L607.17,301.14 L607.97,300.68 L608.78,300.26 L609.58,299.88 L610.38,299.53 L611.18,299.22 L611.98,298.95 L612.78,298.71 L613.58,298.51 L614.38,298.34 L615.19,298.21 L615.99,298.12 L616.79,298.07 L617.59,298.05 L618.39,298.07 L619.19,298.12 L619.99,298.21 L620.79,298.34 L621.6,298.51 L622.4,298.71 L623.2,298.95 L624,299.22 L624.8,299.53 L625.6,299.88 L626.4,300.26 L627.2,300.68 L628.01,301.13 L628.81,301.63 L629.61,302.15 L630.41,302.71 L631.21,303.31 L632.01,303.95 L632.81,304.61 L633.61,305.32 L634.41,306.06 L635.22,306.83 L636.02,307.64 L636.82,308.48 L637.62,309.35 L638.42,310.26 L639.22,311.21 L640.02,312.18 L640.82,313.19 L641.63,314.24 L642.43,315.31 L643.23,316.42 L644.03,317.56 L644.83,318.73 L645.63,319.93 L646.43,321.17 L647.23,322.43 L648.04,323.73 L648.84,325.06 L649.64,326.41 L650.44,327.8 L651.24,329.21 L652.04,330.66 L652.84,332.13 L653.64,333.63 L654.45,335.16 L655.25,336.72 L656.05,338.3 L656.85,339.91 L657.65,341.55 L658.45,343.21 L659.25,344.9 L660.05,346.61 L660.86,348.34 L661.66,350.11 L662.46,351.89 L663.26,353.7 L664.06,355.53 L664.86,357.38 L665.66,359.26 L666.46,361.16 L667.26,363.08 L668.07,365.01 L668.87,366.97 L669.67,368.95 L670.47,370.95 L671.27,372.96 L672.07,375 L672.87,377.05 L673.67,379.12 L674.48,381.2 L675.28,383.3 L676.08,385.42 L676.88,387.55 L677.68,389.7 L678.48,391.86 L679.28,394.03 L680.08,396.22 L680.89,398.42 L681.69,400.63 L682.49,402.85 L683.29,405.08 L684.09,407.33 L684.89,409.58 L685.69,411.84 L686.49,414.11 L687.3,416.39 L688.1,418.67 L688.9,420.96 L689.7,423.26 L690.5,425.56 L691.3,427.87 L692.1,430.19 L692.9,432.5 L693.7,434.82 L694.51,437.15 L695.31,439.47 L696.11,441.8 L696.91,444.12 L697.71,446.45 L698.51,448.78 L699.31,451.11 L700.11,453.43 L700.92,455.76 L701.72,458.08 L702.52,460.4 L703.32,462.71 L704.12,465.02 L704.92,467.33 L705.72,469.63 L706.52,471.93 L707.33,474.21 L708.13,476.5 L708.93,478.77 L709.73,481.04 L710.53,483.29 L711.33,485.54 L712.13,487.78 L712.93,490.01 L713.74,492.22 L714.54,494.43 L715.34,496.62 L716.14,498.8 L716.94,500.97 L717.74,503.12 L718.54,505.26 L719.34,507.39 L720.14,509.5 L720.95,511.59 L721.75,513.67 L722.55,515.73 L723.35,517.78 L724.15,519.8 L724.95,521.81 L725.75,523.8 L726.55,525.77 L727.36,527.72 L728.16,529.65 L728.96,531.56 L729.76,533.44 L730.56,535.31 L731.36,537.15 L732.16,538.97 L732.96,540.77 L733.77,542.55 L734.57,544.3 L735.37,546.02 L736.17,547.72 L736.97,549.4 L737.77,551.05 L738.57,552.67 L739.37,554.27 L740.18,555.84 L740.98,557.39 L741.78,558.9 L742.58,560.39 L743.38,561.85 L744.18,563.28 L744.98,564.68 L745.78,566.06 L746.58,567.4 L747.39,568.71 L748.19,569.99 L748.99,571.24 L749.79,572.46 L750.59,573.65 L751.39,574.81 L752.19,575.94 L752.99,577.03 L753.8,578.09 L754.6,579.12 L755.4,580.11 L756.2,581.07 L757,582 L757.8,582.9 L758.6,583.76 L759.4,584.58 L760.21,585.38 L761.01,586.13 L761.81,586.86 L762.61,587.54 L763.41,588.2 L764.21,588.81 L765.01,589.39 L765.81,589.94 L766.62,590.45 L767.42,590.93 L768.22,591.37 L769.02,591.77 L769.82,592.13 L770.62,592.46 L771.42,592.76 L772.22,593.02 L773.03,593.24 L773.83,593.42 L774.63,593.57 L775.43,593.68 L776.23,593.76 L777.03,593.8 L777.83,593.8 L778.63,593.76 L779.43,593.69 L780.24,593.58 L781.04,593.44 L781.84,593.26 L782.64,593.04 L783.44,592.78 L784.24,592.49 L785.04,592.17 L785.84,591.8 L786.65,591.4 L787.45,590.97 L788.25,590.49 L789.05,589.99 L789.85,589.44 L790.65,588.87 L791.45,588.25 L792.25,587.6 L793.06,586.92 L793.86,586.2 L794.66,585.44 L795.46,584.65 L796.26,583.83 L797.06,582.97 L797.86,582.08 L798.66,581.16 L799.47,580.2 L800.27,579.21 L801.07,578.18 L801.87,577.12 L802.67,576.03 L803.47,574.91 L804.27,573.76 L805.07,572.57 L805.87,571.35 L806.68,570.1 L807.48,568.83 L808.28,567.52 L809.08,566.18 L809.88,564.81 L810.68,563.41 L811.48,561.98 L812.28,560.52 L813.09,559.03 L813.89,557.52 L814.69,555.98 L815.49,554.41 L816.29,552.82 L817.09,551.19 L817.89,549.55 L818.69,547.87 L819.5,546.17 L820.3,544.45 L821.1,542.7 L821.9,540.93 L822.7,539.13 L823.5,537.31 L824.3,535.47 L825.1,533.61 L825.91,531.72 L826.71,529.82 L827.51,527.89 L828.31,525.94 L829.11,523.97 L829.91,521.99 L830.71,519.98 L831.51,517.96 L832.31,515.91 L833.12,513.85 L833.92,511.78 L834.72,509.69 L835.52,507.58 L836.32,505.45 L837.12,503.31 L837.92,501.16 L838.72,499 L839.53,496.82 L840.33,494.62 L841.13,492.42 L841.93,490.2 L842.73,487.98 L843.53,485.74 L844.33,483.49 L845.13,481.24 L845.94,478.97 L846.74,476.7 L847.54,474.42 L848.34,472.13 L849.14,469.83 L849.94,467.53 L850.74,465.23 L851.54,462.92 L852.35,460.6 L853.15,458.29 L853.95,455.96 L854.75,453.64 L855.55,451.31 L856.35,448.99 L857.15,446.66 L857.95,444.33 L858.75,442 L859.56,439.68 L860.36,437.35 L861.16,435.03 L861.96,432.71 L862.76,430.39 L863.56,428.08 L864.36,425.77 L865.16,423.46 L865.97,421.17 L866.77,418.87 L867.57,416.59 L868.37,414.31 L869.17,412.04 L869.97,409.78 L870.77,407.53 L871.57,405.28 L872.38,403.05 L873.18,400.83 L873.98,398.61 L874.78,396.41 L875.58,394.23 L876.38,392.05 L877.18,389.89 L877.98,387.74 L878.79,385.61 L879.59,383.49 L880.39,381.39 L881.19,379.3 L881.99,377.23 L882.79,375.18 L883.59,373.14 L884.39,371.13 L885.19,369.13 L886,367.15 L886.8,365.19 L887.6,363.25 L888.4,361.33 L889.2,359.43 L890,357.55 L890.8,355.69 L891.6,353.86 L892.41,352.05 L893.21,350.26 L894.01,348.5 L894.81,346.76 L895.61,345.05 L896.41,343.36 L897.21,341.69 L898.01,340.05 L898.82,338.44 L899.62,336.86 L900.42,335.3 L901.22,333.77 L902.02,332.26 L902.82,330.79 L903.62,329.34 L904.42,327.92 L905.23,326.53 L906.03,325.18 L906.83,323.85 L907.63,322.55 L908.43,321.28 L909.23,320.04 L910.03,318.84 L910.83,317.66 L911.64,316.52 L912.44,315.41 L913.24,314.33 L914.04,313.28 L914.84,312.27 L915.64,311.29 L916.44,310.35 L917.24,309.43 L918.04,308.55 L918.85,307.71 L919.65,306.9 L920.45,306.12 L921.25,305.38 L922.05,304.68 L922.85,304 L923.65,303.37 L924.45,302.77 L925.26,302.2 L926.06,301.67 L926.86,301.18 L927.66,300.72 L928.46,300.3 L929.26,299.91 L930.06,299.56 L930.86,299.25 L931.67,298.97 L932.47,298.73 L933.27,298.52 L934.07,298.36 L934.87,298.22 L935.67,298.13 L936.47,298.07 L937.27,298.05 L938.08,298.06 L938.88,298.12 L939.68,298.2 L940.48,298.33 L941.28,298.49 L942.08,298.69 L942.88,298.92 L943.68,299.2 L944.48,299.5 L945.29,299.85 L946.09,300.23 L946.89,300.64 L947.69,301.1 L948.49,301.58 L949.29,302.11 L950.09,302.67 L950.89,303.26 L951.7,303.89 L952.5,304.56 L953.3,305.26 L954.1,305.99 L954.9,306.76 L955.7,307.57 L956.5,308.41 L957.3,309.28 L958.11,310.19 L958.91,311.13 L959.71,312.1 L960.51,313.11 L961.31,314.15 L962.11,315.22 L962.91,316.33 L963.71,317.46 L964.52,318.63 L965.32,319.83 L966.12,321.07 L966.92,322.33 L967.72,323.62 L968.52,324.95 L969.32,326.3 L970.12,327.68 L970.92,329.09 L971.73,330.54 L972.53,332.01 L973.33,333.51 L974.13,335.03 L974.93,336.59 L975.73,338.17 L976.53,339.77 L977.33,341.41 L978.14,343.07 L978.94,344.75 L979.74,346.46 L980.54,348.2 L981.34,349.96 L982.14,351.74 L982.94,353.55 L983.74,355.38 L984.55,357.23 L985.35,359.1 L986.15,361 L986.95,362.91 L987.75,364.85 L988.55,366.81 L989.35,368.79 L990.15,370.78 L990.96,372.8 L991.76,374.83 L992.56,376.88 L993.36,378.95 L994.16,381.03 L994.96,383.13 L995.76,385.24 L996.56,387.38 L997.37,389.52 L998.17,391.68 L998.97,393.85 L999.77,396.04 L1000.57,398.23 L1001.37,400.44 L1002.17,402.67 L1002.97,404.9 L1003.77,407.14 L1004.58,409.39 L1005.38,411.65 L1006.18,413.92 L1006.98,416.2 L1007.78,418.48 L1008.58,420.77 L1009.38,423.07 L1010.18,425.37 L1010.99,427.68 L1011.79,429.99 L1012.59,432.31 L1013.39,434.63 L1014.19,436.95 L1014.99,439.28 L1015.79,441.6 L1016.59,443.93 L1017.4,446.26 L1018.2,448.59 L1019,450.91 L1019.8,453.24 L1020.6,455.56 L1021.4,457.89 L1022.2,460.21 L1023,462.52 L1023.81,464.83 L1024.61,467.14 L1025.41,469.44 L1026.21,471.74 L1027.01,474.02 L1027.81,476.31 L1028.61,478.58 L1029.41,480.85 L1030.21,483.11 L1031.02,485.35 L1031.82,487.59 L1032.62,489.82 L1033.42,492.04 L1034.22,494.25 L1035.02,496.44 L1035.82,498.62 L1036.62,500.79 L1037.43,502.95 L1038.23,505.09 L1039.03,507.21 L1039.83,509.32 L1040.63,511.42 L1041.43,513.5 L1042.23,515.56 L1043.03,517.61 L1043.84,519.63 L1044.64,521.64 L1045.44,523.63 L1046.24,525.6 L1047.04,527.56 L1047.84,529.49 L1048.64,531.4 L1049.44,533.29 L1050.25,535.15 L1051.05,537 L1051.85,538.82 L1052.65,540.62 L1053.45,542.4" stroke="#ff0000" stroke-dasharray="28 6 14 6" stroke-dashoffset="3.53"/>
<path d="M492.6,605.36 L493.4,603.78 L494.2,602.14 L495,600.45 L495.8,598.71 L496.61,596.91 L497.41,595.05 L498.21,593.15 L499.01,591.18 L499.81,589.17 L500.61,587.1 L501.41,584.98 L502.21,582.81 L503.02,580.59 L503.82,578.32 L504.62,576 L505.42,573.64 L506.22,571.22 L507.02,568.77 L507.82,566.26 L508.62,563.72 L509.43,561.13 L510.23,558.5 L511.03,555.84 L511.83,553.13 L512.63,550.39 L513.43,547.62 L514.23,544.81 L515.03,541.98 L515.84,539.11 L516.64,536.22 L517.44,533.3 L518.24,530.35 L519.04,527.39 L519.84,524.41 L520.64,521.4 L521.44,518.39 L522.24,515.35 L523.05,512.31 L523.85,509.25 L524.65,506.19 L525.45,503.12 L526.25,500.05 L527.05,496.97 L527.85,493.9 L528.65,490.82 L529.46,487.75 L530.26,484.69 L531.06,481.63 L531.86,478.59 L532.66,475.55 L533.46,472.53 L534.26,469.53 L535.06,466.54 L535.87,463.57 L536.67,460.62 L537.47,457.69 L538.27,454.78 L539.07,451.88 L539.87,448.97 L540.67,446.06 L541.47,443.16 L542.28,440.26 L543.08,437.36 L543.88,434.47 L544.68,431.58 L545.48,428.69 L546.28,425.81 L547.08,422.94 L547.88,420.08 L548.68,417.22 L549.49,414.37 L550.29,411.53 L551.09,408.7 L551.89,405.88 L552.69,403.08 L553.49,400.28 L554.29,397.5 L555.09,394.73 L555.9,391.97 L556.7,389.22 L557.5,386.5 L558.3,383.78 L559.1,381.09 L559.9,378.41 L560.7,375.74 L561.5,373.1 L562.31,370.47 L563.11,367.86 L563.91,365.27 L564.71,362.7 L565.51,360.15 L566.31,357.63 L567.11,355.12 L567.91,352.64 L568.72,350.18 L569.52,347.74 L570.32,345.33 L571.12,342.94 L571.92,340.58 L572.72,338.24 L573.52,335.92 L574.32,333.64 L575.13,331.38 L575.93,329.15 L576.73,326.95 L577.53,324.77 L578.33,322.63 L579.13,320.51 L579.93,318.42 L580.73,316.37 L581.53,314.34 L582.34,312.35 L583.14,310.39 L583.94,308.46 L584.74,306.56 L585.54,304.7 L586.34,302.86 L587.14,301.07 L587.94,299.31 L588.75,297.58 L589.55,295.89 L590.35,294.23 L591.15,292.61 L591.95,291.03 L592.75,289.48 L593.55,287.97 L594.35,286.5 L595.16,285.06 L595.96,283.66 L596.76,282.31 L597.56,280.99 L598.36,279.71 L599.16,278.47 L599.96,277.27 L600.76,276.11 L601.57,274.99 L602.37,273.91 L603.17,272.87 L603.97,271.87 L604.77,270.92 L605.57,270.01 L606.37,269.14 L607.17,268.31 L607.97,267.52 L608.78,266.78 L609.58,266.08 L610.38,265.43 L611.18,264.82 L611.98,264.25 L612.78,263.73 L613.58,263.25 L614.38,262.81 L615.19,262.42 L615.99,262.08 L616.79,261.78 L617.59,261.52 L618.39,261.31 L619.19,261.15 L619.99,261.03 L620.79,260.96 L621.6,260.93 L622.4,260.95 L623.2,261.02 L624,261.13 L624.8,261.29 L625.6,261.5 L626.4,261.76 L627.2,262.06 L628.01,262.41 L628.81,262.81 L629.61,263.26 L630.41,263.76 L631.21,264.31 L632.01,264.91 L632.81,265.56 L633.61,266.25 L634.41,267 L635.22,267.8 L636.02,268.64 L636.82,269.53 L637.62,270.48 L638.42,271.47 L639.22,272.51 L640.02,273.6 L640.82,274.74 L641.63,275.93 L642.43,277.17 L643.23,278.45 L644.03,279.79 L644.83,281.17 L645.63,282.59 L646.43,284.07 L647.23,285.59 L648.04,287.16 L648.84,288.77 L649.64,290.43 L650.44,292.13 L651.24,293.88 L652.04,295.67 L652.84,297.5 L653.64,299.38 L654.45,301.3 L655.25,303.26 L656.05,305.26 L656.85,307.3 L657.65,309.39 L658.45,311.51 L659.25,313.66 L660.05,315.86 L660.86,318.09 L661.66,320.36 L662.46,322.66 L663.26,325 L664.06,327.37 L664.86,329.78 L665.66,332.21 L666.46,334.68 L667.26,337.17 L668.07,339.7 L668.87,342.25 L669.67,344.83 L670.47,347.44 L671.27,350.07 L672.07,352.73 L672.87,355.41 L673.67,358.12 L674.48,360.84 L675.28,363.59 L676.08,366.35 L676.88,369.14 L677.68,371.94 L678.48,374.76 L679.28,377.59 L680.08,380.44 L680.89,383.3 L681.69,386.17 L682.49,389.06 L683.29,391.96 L684.09,394.86 L684.89,397.78 L685.69,400.7 L686.49,403.63 L687.3,406.56 L688.1,409.5 L688.9,412.44 L689.7,415.38 L690.5,418.33 L691.3,421.27 L692.1,424.22 L692.9,427.16 L693.7,430.1 L694.51,433.04 L695.31,435.97 L696.11,438.9 L696.91,441.82 L697.71,444.73 L698.51,447.64 L699.31,450.53 L700.11,453.41 L700.92,456.28 L701.72,459.14 L702.52,461.99 L703.32,464.82 L704.12,467.64 L704.92,470.44 L705.72,473.23 L706.52,476.01 L707.33,478.76 L708.13,481.51 L708.93,484.24 L709.73,486.95 L710.53,489.64 L711.33,492.32 L712.13,494.98 L712.93,497.62 L713.74,500.25 L714.54,502.85 L715.34,505.44 L716.14,508.01 L716.94,510.56 L717.74,513.09 L718.54,515.6 L719.34,518.1 L720.14,520.57 L720.95,523.02 L721.75,525.45 L722.55,527.86 L723.35,530.25 L724.15,532.61 L724.95,534.96 L725.75,537.28 L726.55,539.58 L727.36,541.86 L728.16,544.12 L728.96,546.35 L729.76,548.56 L730.56,550.75 L731.36,552.92 L732.16,555.06 L732.96,557.17 L733.77,559.27 L734.57,561.34 L735.37,563.38 L736.17,565.4 L736.97,567.39 L737.77,569.36 L738.57,571.31 L739.37,573.23 L740.18,575.12 L740.98,576.99 L741.78,578.83 L742.58,580.64 L743.38,582.43 L744.18,584.19 L744.98,585.92 L745.78,587.63 L746.58,589.3 L747.39,590.95 L748.19,592.58 L748.99,594.17 L749.79,595.73 L750.59,597.27 L751.39,598.77 L752.19,600.25 L752.99,601.69 L753.8,603.11 L754.6,604.49 L755.4,605.85 L756.2,607.17 L757,608.46 L757.8,609.72 L758.6,610.95 L759.4,612.14 L760.21,613.3 L761.01,614.43 L761.81,615.53 L762.61,616.59 L763.41,617.62 L764.21,618.61 L765.01,619.56 L765.81,620.49 L766.62,621.37 L767.42,622.22 L768.22,623.03 L769.02,623.81 L769.82,624.55 L770.62,625.25 L771.42,625.91 L772.22,626.53 L773.03,627.11 L773.83,627.66 L774.63,628.16 L775.43,628.63 L776.23,629.05 L777.03,629.43 L777.83,629.77 L778.63,630.06 L779.43,630.32 L780.24,630.53 L781.04,630.69 L781.84,630.81 L782.64,630.89 L783.44,630.92 L784.24,630.9 L785.04,630.84 L785.84,630.72 L786.65,630.56 L787.45,630.35 L788.25,630.09 L789.05,629.78 L789.85,629.42 L790.65,629 L791.45,628.54 L792.25,628.02 L793.06,627.46 L793.86,626.84 L794.66,626.16 L795.46,625.44 L796.26,624.66 L797.06,623.83 L797.86,622.95 L798.66,622.02 L799.47,621.03 L800.27,619.99 L801.07,618.9 L801.87,617.75 L802.67,616.56 L803.47,615.31 L804.27,614.01 L805.07,612.66 L805.87,611.26 L806.68,609.8 L807.48,608.3 L808.28,606.75 L809.08,605.14 L809.88,603.49 L810.68,601.79 L811.48,600.04 L812.28,598.25 L813.09,596.41 L813.89,594.52 L814.69,592.58 L815.49,590.6 L816.29,588.58 L817.09,586.52 L817.89,584.41 L818.69,582.26 L819.5,580.07 L820.3,577.84 L821.1,575.57 L821.9,573.26 L822.7,570.91 L823.5,568.53 L824.3,566.12 L825.1,563.67 L825.91,561.18 L826.71,558.67 L827.51,556.12 L828.31,553.54 L829.11,550.94 L829.91,548.31 L830.71,545.64 L831.51,542.96 L832.31,540.25 L833.12,537.52 L833.92,534.76 L834.72,531.98 L835.52,529.19 L836.32,526.37 L837.12,523.54 L837.92,520.69 L838.72,517.83 L839.53,514.95 L840.33,512.06 L841.13,509.16 L841.93,506.25 L842.73,503.32 L843.53,500.4 L844.33,497.46 L845.13,494.52 L845.94,491.57 L846.74,488.62 L847.54,485.67 L848.34,482.72 L849.14,479.77 L849.94,476.82 L850.74,473.87 L851.54,470.92 L852.35,467.98 L853.15,465.05 L853.95,462.12 L854.75,459.2 L855.55,456.29 L856.35,453.39 L857.15,450.5 L857.95,447.61 L858.75,444.73 L859.56,441.84 L860.36,438.96 L861.16,436.07 L861.96,433.19 L862.76,430.31 L863.56,427.43 L864.36,424.56 L865.16,421.69 L865.97,418.83 L866.77,415.97 L867.57,413.12 L868.37,410.28 L869.17,407.45 L869.97,404.63 L870.77,401.82 L871.57,399.02 L872.38,396.23 L873.18,393.46 L873.98,390.69 L874.78,387.95 L875.58,385.22 L876.38,382.5 L877.18,379.8 L877.98,377.12 L878.79,374.45 L879.59,371.81 L880.39,369.18 L881.19,366.58 L881.99,363.99 L882.79,361.43 L883.59,358.89 L884.39,356.37 L885.19,353.87 L886,351.4 L886.8,348.95 L887.6,346.53 L888.4,344.14 L889.2,341.77 L890,339.43 L890.8,337.12 L891.6,334.83 L892.41,332.58 L893.21,330.35 L894.01,328.15 L894.81,325.99 L895.61,323.86 L896.41,321.75 L897.21,319.68 L898.01,317.65 L898.82,315.64 L899.62,313.67 L900.42,311.74 L901.22,309.84 L902.02,307.97 L902.82,306.14 L903.62,304.35 L904.42,302.59 L905.23,300.87 L906.03,299.19 L906.83,297.54 L907.63,295.93 L908.43,294.36 L909.23,292.83 L910.03,291.34 L910.83,289.89 L911.64,288.47 L912.44,287.1 L913.24,285.77 L914.04,284.48 L914.84,283.22 L915.64,282.01 L916.44,280.84 L917.24,279.72 L918.04,278.63 L918.85,277.59 L919.65,276.59 L920.45,275.63 L921.25,274.71 L922.05,273.83 L922.85,273 L923.65,272.21 L924.45,271.47 L925.26,270.76 L926.06,270.1 L926.86,269.49 L927.66,268.91 L928.46,268.38 L929.26,267.9 L930.06,267.46 L930.86,267.06 L931.67,266.7 L932.47,266.39 L933.27,266.12 L934.07,265.9 L934.87,265.71 L935.67,265.58 L936.47,265.48 L937.27,265.43 L938.08,265.42 L938.88,265.46 L939.68,265.54 L940.48,265.66 L941.28,265.83 L942.08,266.04 L942.88,266.3 L943.68,266.6 L944.48,266.95 L945.29,267.34 L946.09,267.77 L946.89,268.25 L947.69,268.77 L948.49,269.33 L949.29,269.93 L950.09,270.58 L950.89,271.28 L951.7,272.01 L952.5,272.79 L953.3,273.6 L954.1,274.46 L954.9,275.36 L955.7,276.31 L956.5,277.29 L957.3,278.31 L958.11,279.38 L958.91,280.48 L959.71,281.63 L960.51,282.81 L961.31,284.04 L962.11,285.3 L962.91,286.6 L963.71,287.94 L964.52,289.31 L965.32,290.73 L966.12,292.18 L966.92,293.67 L967.72,295.2 L968.52,296.76 L969.32,298.36 L970.12,299.99 L970.92,301.66 L971.73,303.36 L972.53,305.1 L973.33,306.87 L974.13,308.67 L974.93,310.51 L975.73,312.38 L976.53,314.28 L977.33,316.21 L978.14,318.18 L978.94,320.17 L979.74,322.2 L980.54,324.26 L981.34,326.34 L982.14,328.46 L982.94,330.6 L983.74,332.77 L984.55,334.97 L985.35,337.19 L986.15,339.44 L986.95,341.72 L987.75,344.03 L988.55,346.35 L989.35,348.71 L990.15,351.08 L990.96,353.48 L991.76,355.9 L992.56,358.35 L993.36,360.82 L994.16,363.3 L994.96,365.81 L995.76,368.34 L996.56,370.89 L997.37,373.46 L998.17,376.04 L998.97,378.64 L999.77,381.26 L1000.57,383.9 L1001.37,386.55 L1002.17,389.22 L1002.97,391.9 L1003.77,394.6 L1004.58,397.31 L1005.38,400.03 L1006.18,402.77 L1006.98,405.52 L1007.78,408.27 L1008.58,411.04 L1009.38,413.82 L1010.18,416.61 L1010.99,419.4 L1011.79,422.21 L1012.59,425.02 L1013.39,427.84 L1014.19,430.66 L1014.99,433.49 L1015.79,436.32 L1016.59,439.16 L1017.4,442 L1018.2,444.84 L1019,447.66 L1019.8,450.49 L1020.6,453.3 L1021.4,456.11 L1022.2,458.91 L1023,461.71 L1023.81,464.49 L1024.61,467.27 L1025.41,470.03 L1026.21,472.79 L1027.01,475.54 L1027.81,478.27 L1028.61,481 L1029.41,483.71 L1030.21,486.41 L1031.02,489.11 L1031.82,491.78 L1032.62,494.45 L1033.42,497.1 L1034.22,499.74 L1035.02,502.37 L1035.82,504.98 L1036.62,507.58 L1037.43,510.16 L1038.23,512.73 L1039.03,515.29 L1039.83,517.82 L1040.63,520.34 L1041.43,522.85 L1042.23,525.34 L1043.03,527.81 L1043.84,530.26 L1044.64,532.7 L1045.44,535.12 L1046.24,537.51 L1047.04,539.89 L1047.84,542.25 L1048.64,544.59 L1049.44,546.91 L1050.25,549.21 L1051.05,551.49 L1051.85,553.75 L1052.65,555.98 L1053.45,558.19" stroke="#0000ff" stroke-dasharray="28 26" stroke-dashoffset="1.37"/>
</g>
<g font-family="'Liberation Sans', Arial, Helvetica, sans-serif" fill="#222222">
<text transform="translate(467.6,208.45) scale(1,1.05)" font-size="28.3" text-anchor="end">0.4</text>
<text transform="translate(467.6,328.19) scale(1,1.05)" font-size="28.3" text-anchor="end">0.2</text>
<text transform="translate(474.9,447.93) scale(1,1.05)" font-size="28.3" text-anchor="end">0</text>
<text transform="translate(463.4,567.66) scale(1,1.05)" font-size="28.3" text-anchor="end">-0.2</text>
<text transform="translate(463.4,687.4) scale(1,1.05)" font-size="28.3" text-anchor="end">-0.4</text>
<text transform="translate(493.3,734.2) scale(1,1.05)" font-size="28.3" text-anchor="middle">14</text>
<text transform="translate(696.86,734.2) scale(1,1.05)" font-size="28.3" text-anchor="middle">16</text>
<text transform="translate(900.42,734.2) scale(1,1.05)" font-size="28.3" text-anchor="middle">18</text>
</g>
<rect x="1080.5" y="76.5" width="511" height="240" fill="#fff" stroke="#222222" stroke-width="3" shape-rendering="crispEdges"/>
<g fill="none" stroke-width="10" shape-rendering="crispEdges">
<path d="M1094,121 H1230" stroke="#000"/>
<path d="M1094,197 H1230" stroke="#ff0000" stroke-dasharray="28 6 14 6"/>
<path d="M1094,273 H1230" stroke="#0000ff" stroke-dasharray="28 26"/>
</g>
<g font-family="'Liberation Sans', Arial, Helvetica, sans-serif" fill="#000">
<text x="1239.5" y="105.7" font-size="30">x</text>
<text transform="translate(1260.3,136.5) scale(1,1.04)" font-size="23.5">3</text>
<text transform="translate(1240.4,205.5) scale(1.0,0.9)" font-size="36.5" font-family="'DejaVu Serif', 'Liberation Serif', 'Times New Roman', serif" font-style="italic" stroke="#000" stroke-width="0.75">α</text>
<text transform="translate(1267.1,213.8) scale(1,1.04)" font-size="23.5">2</text>
<text transform="translate(1287,189.6) scale(1,1.02)" font-size="30.5">-LPV+ADSSMC</text>
<text transform="translate(1240.4,280.3) scale(1.0,0.9)" font-size="36.5" font-family="'DejaVu Serif', 'Liberation Serif', 'Times New Roman', serif" font-style="italic" stroke="#000" stroke-width="0.75">α</text>
<text transform="translate(1267.1,289.2) scale(1,1.04)" font-size="23.5">2</text>
<text transform="translate(1287,264.8) scale(1,1.02)" font-size="30.55">-TPI+ADSC</text>
</g>
<path d="M742.2,703.2 L860.32,838.12" stroke="#000" stroke-width="3.3" fill="none"/>
<path d="M881.4,862.2 L836.9,838.69 L860.32,838.12 L863.98,814.98 Z" fill="#000"/>
</svg>
</body></html>
